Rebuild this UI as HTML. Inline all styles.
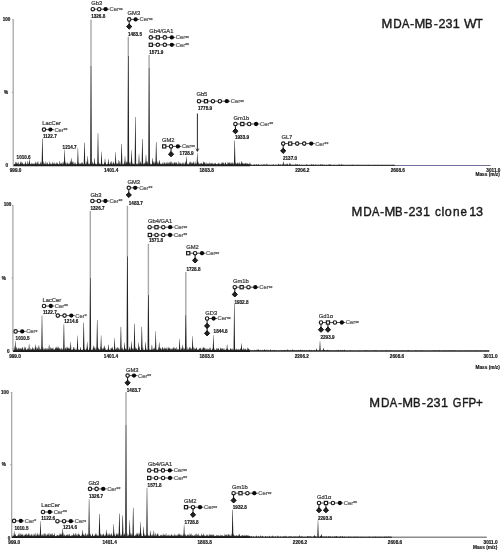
<!DOCTYPE html><html><head><meta charset="utf-8"><style>html,body{margin:0;padding:0;background:#fff;width:501px;height:550px;overflow:hidden}svg{display:block;will-change:transform;filter:blur(0.3px)}text{font-family:"Liberation Sans", sans-serif}</style></head><body>
<svg width="501" height="550" viewBox="0 0 501 550">
<rect width="501" height="550" fill="#fff"/>
<path d="M13.2 165.4H250" stroke="#1a1a1a" stroke-width="1.8" fill="none"/>
<path d="M250 165.4H395" stroke="#3a3a3a" stroke-width="1.3" fill="none"/>
<path d="M395 165.4H490.6" stroke="#70709c" stroke-width="1.05" fill="none"/>
<path d="M13.60 165.4L14.40 163.4L15.20 165.4ZM15.09 165.4L15.89 161.2L16.69 165.4ZM16.17 165.4L16.97 162.2L17.77 165.4ZM17.39 165.4L18.19 161.6L18.99 165.4ZM18.84 165.4L19.64 163.6L20.44 165.4ZM19.76 165.4L20.56 161.0L21.36 165.4ZM20.96 165.4L21.76 161.2L22.56 165.4ZM21.86 165.4L22.66 162.3L23.46 165.4ZM23.27 165.4L24.07 163.1L24.87 165.4ZM24.83 165.4L25.63 160.7L26.43 165.4ZM25.75 165.4L26.55 163.8L27.35 165.4ZM27.03 165.4L27.83 160.6L28.63 165.4ZM28.20 165.4L29.00 163.1L29.80 165.4ZM29.39 165.4L30.19 163.8L30.99 165.4ZM30.45 165.4L31.25 162.4L32.05 165.4ZM31.69 165.4L32.49 163.1L33.29 165.4ZM32.76 165.4L33.56 163.1L34.36 165.4ZM33.98 165.4L34.78 162.9L35.58 165.4ZM34.89 165.4L35.69 161.0L36.49 165.4ZM36.18 165.4L36.98 161.7L37.78 165.4ZM37.21 165.4L38.01 160.4L38.81 165.4ZM38.71 165.4L39.51 163.5L40.31 165.4ZM39.85 165.4L40.65 161.4L41.45 165.4ZM41.25 165.4L42.05 160.6L42.85 165.4ZM42.44 165.4L43.24 161.0L44.04 165.4ZM43.81 165.4L44.61 162.8L45.41 165.4ZM45.12 165.4L45.92 160.8L46.72 165.4ZM46.61 165.4L47.41 162.1L48.21 165.4ZM47.93 165.4L48.73 163.8L49.53 165.4ZM49.00 165.4L49.80 161.1L50.60 165.4ZM50.19 165.4L50.99 163.3L51.79 165.4ZM51.47 165.4L52.27 161.4L53.07 165.4ZM52.84 165.4L53.64 162.6L54.44 165.4ZM54.05 165.4L54.85 162.1L55.65 165.4ZM55.49 165.4L56.29 162.1L57.09 165.4ZM56.67 165.4L57.47 162.2L58.27 165.4ZM57.59 165.4L58.39 163.7L59.19 165.4ZM58.98 165.4L59.78 160.5L60.58 165.4ZM60.30 165.4L61.10 162.5L61.90 165.4ZM61.32 165.4L62.12 162.1L62.92 165.4ZM62.90 165.4L63.70 161.2L64.50 165.4ZM64.18 165.4L64.98 160.9L65.78 165.4ZM65.24 165.4L66.04 162.1L66.84 165.4ZM66.81 165.4L67.61 161.9L68.41 165.4ZM68.03 165.4L68.83 163.0L69.63 165.4ZM69.32 165.4L70.12 160.6L70.92 165.4ZM70.22 165.4L71.02 161.2L71.82 165.4ZM71.69 165.4L72.49 160.8L73.29 165.4ZM73.11 165.4L73.91 161.1L74.71 165.4ZM74.38 165.4L75.18 161.9L75.98 165.4ZM75.57 165.4L76.37 163.7L77.17 165.4ZM77.08 165.4L77.88 161.9L78.68 165.4ZM78.12 165.4L78.92 162.1L79.72 165.4ZM79.36 165.4L80.16 162.7L80.96 165.4ZM80.51 165.4L81.31 162.0L82.11 165.4ZM81.84 165.4L82.64 161.8L83.44 165.4ZM83.06 165.4L83.86 163.8L84.66 165.4ZM84.12 165.4L84.92 163.3L85.72 165.4ZM85.43 165.4L86.23 160.9L87.03 165.4ZM86.89 165.4L87.69 161.1L88.49 165.4ZM88.36 165.4L89.16 163.0L89.96 165.4ZM89.85 165.4L90.65 161.5L91.45 165.4ZM90.81 165.4L91.61 163.8L92.41 165.4ZM91.72 165.4L92.52 161.3L93.32 165.4ZM92.79 165.4L93.59 163.5L94.39 165.4ZM94.13 165.4L94.93 162.7L95.73 165.4ZM95.08 165.4L95.88 163.3L96.68 165.4ZM96.35 165.4L97.15 163.3L97.95 165.4ZM97.44 165.4L98.24 161.4L99.04 165.4ZM98.66 165.4L99.46 162.8L100.26 165.4ZM99.89 165.4L100.69 163.8L101.49 165.4ZM101.06 165.4L101.86 162.4L102.66 165.4ZM102.09 165.4L102.89 163.5L103.69 165.4ZM103.62 165.4L104.42 162.1L105.22 165.4ZM104.67 165.4L105.47 161.8L106.27 165.4ZM106.14 165.4L106.94 163.8L107.74 165.4ZM107.05 165.4L107.85 163.4L108.65 165.4ZM108.46 165.4L109.26 163.3L110.06 165.4ZM109.85 165.4L110.65 161.5L111.45 165.4ZM111.13 165.4L111.93 163.1L112.73 165.4ZM112.71 165.4L113.51 161.1L114.31 165.4ZM113.98 165.4L114.78 163.1L115.58 165.4ZM115.33 165.4L116.13 162.5L116.93 165.4ZM116.63 165.4L117.43 162.8L118.23 165.4ZM117.97 165.4L118.77 163.7L119.57 165.4ZM119.08 165.4L119.88 160.5L120.68 165.4ZM120.60 165.4L121.40 162.8L122.20 165.4ZM122.10 165.4L122.90 162.8L123.70 165.4ZM123.66 165.4L124.46 161.3L125.26 165.4ZM124.85 165.4L125.65 163.0L126.45 165.4ZM125.75 165.4L126.55 160.8L127.35 165.4ZM126.68 165.4L127.48 161.0L128.28 165.4ZM128.25 165.4L129.05 161.9L129.85 165.4ZM129.27 165.4L130.07 160.9L130.87 165.4ZM130.85 165.4L131.65 161.4L132.45 165.4ZM132.11 165.4L132.91 162.6L133.71 165.4ZM133.25 165.4L134.05 163.2L134.85 165.4ZM134.63 165.4L135.43 162.4L136.23 165.4ZM135.66 165.4L136.46 163.5L137.26 165.4ZM137.03 165.4L137.83 162.9L138.63 165.4ZM138.28 165.4L139.08 162.8L139.88 165.4ZM139.79 165.4L140.59 160.8L141.39 165.4ZM140.70 165.4L141.50 163.2L142.30 165.4ZM141.83 165.4L142.63 160.4L143.43 165.4ZM143.28 165.4L144.08 162.7L144.88 165.4ZM144.33 165.4L145.13 161.5L145.93 165.4ZM145.81 165.4L146.61 160.6L147.41 165.4ZM146.95 165.4L147.75 160.8L148.55 165.4ZM148.33 165.4L149.13 162.2L149.93 165.4ZM149.92 165.4L150.72 163.1L151.52 165.4ZM151.33 165.4L152.13 163.6L152.93 165.4ZM152.35 165.4L153.15 160.7L153.95 165.4ZM153.40 165.4L154.20 161.2L155.00 165.4ZM154.72 165.4L155.52 161.0L156.32 165.4ZM155.88 165.4L156.68 162.7L157.48 165.4ZM156.98 165.4L157.78 160.9L158.58 165.4ZM158.30 165.4L159.10 160.6L159.90 165.4ZM159.83 165.4L160.63 163.0L161.43 165.4ZM161.11 165.4L161.91 163.1L162.71 165.4ZM162.04 165.4L162.84 163.2L163.64 165.4ZM163.55 165.4L164.35 161.4L165.15 165.4ZM165.03 165.4L165.83 162.5L166.63 165.4ZM166.36 165.4L167.16 161.4L167.96 165.4ZM167.52 165.4L168.32 161.9L169.12 165.4ZM168.58 165.4L169.38 163.2L170.18 165.4ZM169.66 165.4L170.46 161.1L171.26 165.4ZM170.96 165.4L171.76 161.0L172.56 165.4ZM172.18 165.4L172.98 162.7L173.78 165.4ZM173.63 165.4L174.43 161.2L175.23 165.4ZM174.54 165.4L175.34 161.7L176.14 165.4ZM175.50 165.4L176.30 163.1L177.10 165.4ZM177.02 165.4L177.82 163.3L178.62 165.4ZM178.09 165.4L178.89 160.8L179.69 165.4ZM179.28 165.4L180.08 163.1L180.88 165.4ZM180.30 165.4L181.10 162.8L181.90 165.4ZM181.72 165.4L182.52 163.1L183.32 165.4ZM183.26 165.4L184.06 162.4L184.86 165.4ZM184.84 165.4L185.64 161.0L186.44 165.4ZM185.95 165.4L186.75 162.7L187.55 165.4ZM187.18 165.4L187.98 163.1L188.78 165.4ZM188.54 165.4L189.34 163.3L190.14 165.4ZM189.44 165.4L190.24 160.8L191.04 165.4ZM190.55 165.4L191.35 161.8L192.15 165.4ZM191.76 165.4L192.56 162.6L193.36 165.4ZM192.71 165.4L193.51 161.0L194.31 165.4ZM194.29 165.4L195.09 160.9L195.89 165.4ZM195.27 165.4L196.07 162.8L196.87 165.4ZM196.60 165.4L197.40 160.9L198.20 165.4ZM197.88 165.4L198.68 161.6L199.48 165.4ZM199.24 165.4L200.04 162.7L200.84 165.4ZM200.52 165.4L201.32 162.6L202.12 165.4ZM201.59 165.4L202.39 163.2L203.19 165.4ZM202.69 165.4L203.49 160.8L204.29 165.4ZM203.90 165.4L204.70 161.7L205.50 165.4ZM205.25 165.4L206.05 161.7L206.85 165.4ZM206.43 165.4L207.23 163.2L208.03 165.4ZM207.56 165.4L208.36 163.2L209.16 165.4ZM209.05 165.4L209.85 161.8L210.65 165.4ZM210.16 165.4L210.96 163.1L211.76 165.4ZM211.44 165.4L212.24 162.6L213.04 165.4ZM212.76 165.4L213.56 163.3L214.36 165.4ZM213.67 165.4L214.47 163.3L215.27 165.4ZM214.62 165.4L215.42 162.6L216.22 165.4ZM215.57 165.4L216.37 163.7L217.17 165.4ZM216.92 165.4L217.72 163.2L218.52 165.4ZM218.37 165.4L219.17 162.8L219.97 165.4ZM219.88 165.4L220.68 163.5L221.48 165.4ZM221.13 165.4L221.93 162.1L222.73 165.4ZM222.08 165.4L222.88 161.7L223.68 165.4ZM223.10 165.4L223.90 162.1L224.70 165.4ZM224.69 165.4L225.49 162.0L226.29 165.4ZM225.82 165.4L226.62 163.7L227.42 165.4ZM227.08 165.4L227.88 161.8L228.68 165.4ZM228.18 165.4L228.98 161.8L229.78 165.4ZM229.18 165.4L229.98 161.8L230.78 165.4ZM230.10 165.4L230.90 163.2L231.70 165.4ZM231.64 165.4L232.44 162.1L233.24 165.4ZM233.17 165.4L233.97 162.0L234.77 165.4ZM234.59 165.4L235.39 162.3L236.19 165.4ZM235.62 165.4L236.42 162.9L237.22 165.4ZM236.63 165.4L237.43 162.3L238.23 165.4ZM238.00 165.4L238.80 163.3L239.60 165.4ZM238.94 165.4L239.74 161.7L240.54 165.4ZM240.41 165.4L241.21 162.6L242.01 165.4ZM241.69 165.4L242.49 161.9L243.29 165.4ZM242.90 165.4L243.70 163.0L244.50 165.4ZM244.04 165.4L244.84 163.3L245.64 165.4ZM244.96 165.4L245.76 162.4L246.56 165.4ZM246.15 165.4L246.95 162.6L247.75 165.4ZM247.09 165.4L247.89 163.1L248.69 165.4ZM248.09 165.4L248.89 163.6L249.69 165.4ZM249.17 165.4L249.97 162.0L250.77 165.4ZM250.35 165.4L251.15 164.2L251.95 165.4ZM252.57 165.4L253.37 164.4L254.17 165.4ZM253.88 165.4L254.68 164.0L255.48 165.4ZM255.93 165.4L256.73 163.8L257.53 165.4ZM257.89 165.4L258.69 163.7L259.49 165.4ZM260.28 165.4L261.08 164.4L261.88 165.4ZM262.33 165.4L263.13 164.0L263.93 165.4ZM263.96 165.4L264.76 164.1L265.56 165.4ZM266.11 165.4L266.91 163.3L267.71 165.4ZM268.78 165.4L269.58 164.4L270.38 165.4ZM271.05 165.4L271.85 164.7L272.65 165.4ZM272.46 165.4L273.26 164.0L274.06 165.4ZM275.08 165.4L275.88 164.5L276.68 165.4ZM277.52 165.4L278.32 163.4L279.12 165.4ZM279.29 165.4L280.09 163.7L280.89 165.4ZM281.87 165.4L282.67 164.2L283.47 165.4ZM284.22 165.4L285.02 163.6L285.82 165.4ZM286.41 165.4L287.21 163.4L288.01 165.4ZM289.05 165.4L289.85 163.3L290.65 165.4ZM291.21 165.4L292.01 164.5L292.81 165.4ZM292.89 165.4L293.69 164.5L294.49 165.4ZM295.04 165.4L295.84 163.6L296.64 165.4ZM296.42 165.4L297.22 163.7L298.02 165.4ZM298.79 165.4L299.59 164.2L300.39 165.4ZM300.87 165.4L301.67 164.8L302.47 165.4ZM303.26 165.4L304.06 165.0L304.86 165.4ZM306.03 165.4L306.83 164.0L307.63 165.4ZM308.28 165.4L309.08 164.7L309.88 165.4ZM310.95 165.4L311.75 163.8L312.55 165.4ZM312.45 165.4L313.25 164.1L314.05 165.4ZM315.02 165.4L315.82 164.2L316.62 165.4ZM317.37 165.4L318.17 164.5L318.97 165.4ZM320.05 165.4L320.85 163.8L321.65 165.4ZM321.93 165.4L322.73 164.0L323.53 165.4ZM323.88 165.4L324.68 164.8L325.48 165.4ZM325.67 165.4L326.47 164.8L327.27 165.4ZM328.33 165.4L329.13 163.8L329.93 165.4ZM329.81 165.4L330.61 164.3L331.41 165.4ZM331.72 165.4L332.52 164.9L333.32 165.4ZM333.46 165.4L334.26 164.7L335.06 165.4ZM335.89 165.4L336.69 165.0L337.49 165.4ZM337.47 165.4L338.27 164.5L339.07 165.4ZM338.80 165.4L339.60 164.2L340.40 165.4ZM341.01 165.4L341.81 164.0L342.61 165.4ZM342.62 165.4L343.42 164.7L344.22 165.4ZM349.24 165.4L350.04 164.7L350.84 165.4ZM351.75 165.4L352.55 164.5L353.35 165.4ZM353.87 165.4L354.67 165.0L355.47 165.4ZM356.45 165.4L357.25 164.7L358.05 165.4ZM358.61 165.4L359.41 165.1L360.21 165.4ZM365.27 165.4L366.07 164.9L366.87 165.4ZM368.02 165.4L368.82 164.7L369.62 165.4ZM372.83 165.4L373.63 164.9L374.43 165.4ZM374.59 165.4L375.39 164.9L376.19 165.4ZM376.43 165.4L377.23 164.9L378.03 165.4ZM377.73 165.4L378.53 165.0L379.33 165.4ZM381.60 165.4L382.40 164.7L383.20 165.4ZM383.93 165.4L384.73 165.0L385.53 165.4ZM386.20 165.4L387.00 165.1L387.80 165.4ZM389.52 165.4L390.32 164.9L391.12 165.4ZM392.15 165.4L392.95 164.7L393.75 165.4Z" fill="#222"/>
<path d="M90.30 19.8H91.70V66.9H90.30ZM127.60 36.7H129.00V56.5H127.60ZM148.40 55.0H149.80V68.7H148.40Z" fill="#a8a8a8"/>
<path d="M15.28 165.4L15.88 162.0H16.12L16.73 165.4ZM28.77 165.4L29.38 159.3H29.62L30.23 165.4ZM41.62 165.4L42.20 138.6H42.60L43.17 165.4ZM63.87 165.4L64.47 149.6H64.72L65.32 165.4ZM70.58 165.4L71.17 157.9H71.42L72.02 165.4ZM77.18 165.4L77.78 147.7H78.03L78.62 165.4ZM83.72 165.4L84.30 142.6H84.70L85.28 165.4ZM86.98 165.4L87.58 156.0H87.83L88.42 165.4ZM90.15 165.4L90.58 66.4H91.42L91.85 165.4ZM93.68 165.4L94.28 157.9H94.53L95.12 165.4ZM97.22 165.4L97.80 133.3H98.20L98.78 165.4ZM100.78 165.4L101.38 151.5H101.62L102.22 165.4ZM104.28 165.4L104.88 158.5H105.12L105.72 165.4ZM107.68 165.4L108.28 159.0H108.53L109.12 165.4ZM111.08 165.4L111.67 161.0H111.92L112.52 165.4ZM114.88 165.4L115.47 152.0H115.72L116.32 165.4ZM118.08 165.4L118.67 160.0H118.92L119.52 165.4ZM120.82 165.4L121.40 144.0H121.80L122.38 165.4ZM124.28 165.4L124.88 156.0H125.12L125.72 165.4ZM127.45 165.4L127.88 56.0H128.73L129.15 165.4ZM130.88 165.4L131.47 150.0H131.72L132.32 165.4ZM134.62 165.4L135.20 117.0H135.60L136.18 165.4ZM138.28 165.4L138.88 154.0H139.12L139.72 165.4ZM141.62 165.4L142.20 139.0H142.60L143.18 165.4ZM145.28 165.4L145.88 154.5H146.12L146.72 165.4ZM148.25 165.4L148.67 68.2H149.53L149.95 165.4ZM151.88 165.4L152.47 157.9H152.72L153.32 165.4ZM155.42 165.4L156.00 142.0H156.40L156.97 165.4ZM158.78 165.4L159.38 160.0H159.62L160.22 165.4ZM162.28 165.4L162.88 162.0H163.12L163.72 165.4ZM165.78 165.4L166.38 162.5H166.62L167.22 165.4ZM169.08 165.4L169.68 162.0H169.93L170.53 165.4ZM172.28 165.4L172.88 162.5H173.12L173.72 165.4ZM175.78 165.4L176.38 162.0H176.62L177.22 165.4ZM179.28 165.4L179.88 162.5H180.12L180.72 165.4ZM182.28 165.4L182.88 162.0H183.12L183.72 165.4ZM185.68 165.4L186.28 156.5H186.53L187.12 165.4ZM189.08 165.4L189.68 162.0H189.93L190.53 165.4ZM192.28 165.4L192.88 162.5H193.12L193.72 165.4ZM196.58 165.4L197.18 152.8H197.43L198.03 165.4ZM200.28 165.4L200.88 163.0H201.12L201.72 165.4ZM203.78 165.4L204.38 162.5H204.62L205.22 165.4ZM207.28 165.4L207.88 163.0H208.12L208.72 165.4ZM210.78 165.4L211.38 162.8H211.62L212.22 165.4ZM214.28 165.4L214.88 163.0H215.12L215.72 165.4ZM217.78 165.4L218.38 162.8H218.62L219.22 165.4ZM221.28 165.4L221.88 163.0H222.12L222.72 165.4ZM224.78 165.4L225.38 162.5H225.62L226.22 165.4ZM228.28 165.4L228.88 162.8H229.12L229.72 165.4ZM230.78 165.4L231.38 162.5H231.62L232.22 165.4ZM233.92 165.4L234.50 140.4H234.90L235.47 165.4ZM237.28 165.4L237.88 162.5H238.12L238.72 165.4ZM240.78 165.4L241.38 161.0H241.62L242.22 165.4ZM244.28 165.4L244.88 163.0H245.12L245.72 165.4ZM282.57 165.4L283.18 161.5H283.43L284.03 165.4ZM286.27 165.4L286.88 163.5H287.12L287.73 165.4ZM289.27 165.4L289.88 163.0H290.12L290.73 165.4Z" fill="#222"/>
<path d="M13.2 19.2V165.4M11.9 92.3H13.2M12.2 19.7H13.2" stroke="#a0a0a0" stroke-width="1.2" fill="none"/>
<text x="10.4" y="20.5" font-size="4.6" font-weight="bold" text-anchor="end" fill="#222" stroke="#222" stroke-width="0.2">100</text>
<text x="6.0" y="93.9" font-size="4.6" font-weight="bold" text-anchor="middle" fill="#222" stroke="#222" stroke-width="0.2">%</text>
<text x="6.9" y="166.8" font-size="4.6" font-weight="bold" text-anchor="middle" fill="#222" stroke="#222" stroke-width="0.2">0</text>
<text x="15.6" y="171.5" font-size="4.7" font-weight="bold" text-anchor="middle" fill="#111" stroke="#111" stroke-width="0.15">999.0</text>
<text x="111.2" y="171.5" font-size="4.7" font-weight="bold" text-anchor="middle" fill="#111" stroke="#111" stroke-width="0.15">1401.4</text>
<text x="206.7" y="171.5" font-size="4.7" font-weight="bold" text-anchor="middle" fill="#111" stroke="#111" stroke-width="0.15">1803.8</text>
<text x="302.3" y="171.5" font-size="4.7" font-weight="bold" text-anchor="middle" fill="#111" stroke="#111" stroke-width="0.15">2206.2</text>
<text x="397.8" y="171.5" font-size="4.7" font-weight="bold" text-anchor="middle" fill="#111" stroke="#111" stroke-width="0.15">2608.6</text>
<text x="493.4" y="171.5" font-size="4.7" font-weight="bold" text-anchor="middle" fill="#111" stroke="#111" stroke-width="0.15">3011.0</text>
<text x="499.8" y="175.6" font-size="4.75" font-weight="bold" text-anchor="end" fill="#111" stroke="#111" stroke-width="0.15">Mass (m/z)</text>
<g font-size="12.6" fill="#1a1a1a" stroke="#1a1a1a" stroke-width="0.4"><text transform="translate(386.9 28.4) scale(1.03 1)" text-anchor="middle">M</text><text transform="translate(397.4 28.4) scale(0.93 1)" text-anchor="middle">D</text><text transform="translate(405.6 28.4) scale(0.88 1)" text-anchor="middle">A</text><text transform="translate(412.2 28.4) scale(1.0 1)" text-anchor="middle">-</text><text transform="translate(419.8 28.4) scale(1.03 1)" text-anchor="middle">M</text><text transform="translate(428.8 28.4) scale(0.9 1)" text-anchor="middle">B</text><text transform="translate(435.8 28.4) scale(1.0 1)" text-anchor="middle">-</text><text transform="translate(442.0 28.4) scale(1.0 1)" text-anchor="middle">2</text><text transform="translate(449.0 28.4) scale(1.0 1)" text-anchor="middle">3</text><text transform="translate(456.2 28.4) scale(1.0 1)" text-anchor="middle">1</text><text transform="translate(470.2 28.4) scale(1.05 1)" text-anchor="middle">W</text><text transform="translate(479.2 28.4) scale(0.9 1)" text-anchor="middle">T</text></g>
<path d="M12.9 351.0H250" stroke="#1a1a1a" stroke-width="1.8" fill="none"/>
<path d="M250 351.0H489.3" stroke="#2a2a2a" stroke-width="1.4" fill="none"/>
<path d="M13.30 351.0L14.10 346.2L14.90 351.0ZM14.86 351.0L15.66 349.3L16.46 351.0ZM15.82 351.0L16.62 346.6L17.42 351.0ZM17.24 351.0L18.04 347.2L18.84 351.0ZM18.35 351.0L19.15 347.4L19.95 351.0ZM19.68 351.0L20.48 347.5L21.28 351.0ZM20.69 351.0L21.49 348.0L22.29 351.0ZM21.86 351.0L22.66 347.0L23.46 351.0ZM23.46 351.0L24.26 346.2L25.06 351.0ZM24.74 351.0L25.54 347.9L26.34 351.0ZM25.83 351.0L26.63 349.4L27.43 351.0ZM26.75 351.0L27.55 347.9L28.35 351.0ZM27.87 351.0L28.67 348.2L29.47 351.0ZM29.40 351.0L30.20 347.7L31.00 351.0ZM30.69 351.0L31.49 348.7L32.29 351.0ZM31.61 351.0L32.41 348.4L33.21 351.0ZM32.60 351.0L33.40 347.7L34.20 351.0ZM34.20 351.0L35.00 347.1L35.80 351.0ZM35.23 351.0L36.03 346.4L36.83 351.0ZM36.69 351.0L37.49 346.9L38.29 351.0ZM38.22 351.0L39.02 346.8L39.82 351.0ZM39.67 351.0L40.47 348.3L41.27 351.0ZM41.26 351.0L42.06 346.1L42.86 351.0ZM42.27 351.0L43.07 346.9L43.87 351.0ZM43.67 351.0L44.47 347.9L45.27 351.0ZM44.94 351.0L45.74 347.8L46.54 351.0ZM46.49 351.0L47.29 347.7L48.09 351.0ZM47.97 351.0L48.77 348.3L49.57 351.0ZM49.49 351.0L50.29 346.4L51.09 351.0ZM50.71 351.0L51.51 347.5L52.31 351.0ZM52.26 351.0L53.06 347.0L53.86 351.0ZM53.50 351.0L54.30 348.7L55.10 351.0ZM54.63 351.0L55.43 347.1L56.23 351.0ZM55.64 351.0L56.44 346.3L57.24 351.0ZM56.73 351.0L57.53 346.3L58.33 351.0ZM57.85 351.0L58.65 346.1L59.45 351.0ZM59.24 351.0L60.04 347.7L60.84 351.0ZM60.50 351.0L61.30 347.2L62.10 351.0ZM61.82 351.0L62.62 348.4L63.42 351.0ZM62.86 351.0L63.66 347.7L64.46 351.0ZM64.41 351.0L65.21 347.3L66.01 351.0ZM65.37 351.0L66.17 346.6L66.97 351.0ZM66.78 351.0L67.58 346.3L68.38 351.0ZM67.81 351.0L68.61 346.9L69.41 351.0ZM68.75 351.0L69.55 347.2L70.35 351.0ZM69.84 351.0L70.64 348.7L71.44 351.0ZM71.35 351.0L72.15 349.1L72.95 351.0ZM72.62 351.0L73.42 346.5L74.22 351.0ZM73.69 351.0L74.49 348.8L75.29 351.0ZM75.21 351.0L76.01 348.0L76.81 351.0ZM76.61 351.0L77.41 349.4L78.21 351.0ZM77.76 351.0L78.56 348.9L79.36 351.0ZM79.13 351.0L79.93 349.2L80.73 351.0ZM80.70 351.0L81.50 349.4L82.30 351.0ZM82.11 351.0L82.91 349.4L83.71 351.0ZM83.19 351.0L83.99 346.7L84.79 351.0ZM84.20 351.0L85.00 348.9L85.80 351.0ZM85.59 351.0L86.39 348.2L87.19 351.0ZM86.52 351.0L87.32 346.0L88.12 351.0ZM87.52 351.0L88.32 349.4L89.12 351.0ZM88.66 351.0L89.46 347.3L90.26 351.0ZM90.08 351.0L90.88 349.1L91.68 351.0ZM91.22 351.0L92.02 349.4L92.82 351.0ZM92.43 351.0L93.23 346.8L94.03 351.0ZM93.85 351.0L94.65 346.3L95.45 351.0ZM95.28 351.0L96.08 346.5L96.88 351.0ZM96.67 351.0L97.47 347.8L98.27 351.0ZM97.73 351.0L98.53 347.2L99.33 351.0ZM98.85 351.0L99.65 349.1L100.45 351.0ZM100.07 351.0L100.87 346.4L101.67 351.0ZM101.06 351.0L101.86 347.5L102.66 351.0ZM102.23 351.0L103.03 347.7L103.83 351.0ZM103.23 351.0L104.03 346.1L104.83 351.0ZM104.31 351.0L105.11 347.4L105.91 351.0ZM105.51 351.0L106.31 349.4L107.11 351.0ZM106.80 351.0L107.60 349.0L108.40 351.0ZM107.74 351.0L108.54 349.4L109.34 351.0ZM108.75 351.0L109.55 349.2L110.35 351.0ZM110.09 351.0L110.89 347.7L111.69 351.0ZM111.68 351.0L112.48 346.2L113.28 351.0ZM113.28 351.0L114.08 348.7L114.88 351.0ZM114.49 351.0L115.29 348.6L116.09 351.0ZM115.80 351.0L116.60 347.3L117.40 351.0ZM117.26 351.0L118.06 347.0L118.86 351.0ZM118.34 351.0L119.14 348.0L119.94 351.0ZM119.61 351.0L120.41 349.5L121.21 351.0ZM120.54 351.0L121.34 348.1L122.14 351.0ZM121.52 351.0L122.32 347.0L123.12 351.0ZM122.58 351.0L123.38 349.2L124.18 351.0ZM123.61 351.0L124.41 348.7L125.21 351.0ZM124.66 351.0L125.46 347.7L126.26 351.0ZM125.89 351.0L126.69 348.4L127.49 351.0ZM127.24 351.0L128.04 348.8L128.84 351.0ZM128.77 351.0L129.57 346.1L130.37 351.0ZM130.18 351.0L130.98 348.0L131.78 351.0ZM131.44 351.0L132.24 347.5L133.04 351.0ZM132.38 351.0L133.18 348.0L133.98 351.0ZM133.64 351.0L134.44 348.9L135.24 351.0ZM134.61 351.0L135.41 346.7L136.21 351.0ZM135.77 351.0L136.57 347.7L137.37 351.0ZM137.31 351.0L138.11 347.4L138.91 351.0ZM138.41 351.0L139.21 346.1L140.01 351.0ZM139.57 351.0L140.37 349.4L141.17 351.0ZM140.95 351.0L141.75 349.1L142.55 351.0ZM142.07 351.0L142.87 346.6L143.67 351.0ZM143.44 351.0L144.24 349.4L145.04 351.0ZM144.65 351.0L145.45 348.1L146.25 351.0ZM145.89 351.0L146.69 348.8L147.49 351.0ZM147.21 351.0L148.01 349.2L148.81 351.0ZM148.31 351.0L149.11 348.2L149.91 351.0ZM149.86 351.0L150.66 349.2L151.46 351.0ZM151.29 351.0L152.09 348.8L152.89 351.0ZM152.59 351.0L153.39 348.1L154.19 351.0ZM153.81 351.0L154.61 346.9L155.41 351.0ZM154.99 351.0L155.79 349.1L156.59 351.0ZM155.98 351.0L156.78 349.2L157.58 351.0ZM157.47 351.0L158.27 347.3L159.07 351.0ZM159.04 351.0L159.84 347.1L160.64 351.0ZM159.96 351.0L160.76 347.3L161.56 351.0ZM161.40 351.0L162.20 347.1L163.00 351.0ZM162.65 351.0L163.45 348.1L164.25 351.0ZM163.87 351.0L164.67 346.9L165.47 351.0ZM164.96 351.0L165.76 347.6L166.56 351.0ZM166.19 351.0L166.99 346.5L167.79 351.0ZM167.66 351.0L168.46 346.6L169.26 351.0ZM169.14 351.0L169.94 348.2L170.74 351.0ZM170.20 351.0L171.00 347.7L171.80 351.0ZM171.29 351.0L172.09 347.9L172.89 351.0ZM172.66 351.0L173.46 346.6L174.26 351.0ZM173.97 351.0L174.77 346.9L175.57 351.0ZM174.94 351.0L175.74 348.1L176.54 351.0ZM176.54 351.0L177.34 348.6L178.14 351.0ZM177.73 351.0L178.53 348.8L179.33 351.0ZM178.69 351.0L179.49 346.7L180.29 351.0ZM180.28 351.0L181.08 347.3L181.88 351.0ZM181.27 351.0L182.07 348.2L182.87 351.0ZM182.33 351.0L183.13 347.3L183.93 351.0ZM183.71 351.0L184.51 347.9L185.31 351.0ZM184.98 351.0L185.78 348.7L186.58 351.0ZM186.26 351.0L187.06 346.5L187.86 351.0ZM187.69 351.0L188.49 348.7L189.29 351.0ZM188.95 351.0L189.75 347.1L190.55 351.0ZM190.03 351.0L190.83 346.7L191.63 351.0ZM191.25 351.0L192.05 347.2L192.85 351.0ZM192.43 351.0L193.23 346.4L194.03 351.0ZM193.88 351.0L194.68 347.5L195.48 351.0ZM194.88 351.0L195.68 347.9L196.48 351.0ZM195.80 351.0L196.60 347.5L197.40 351.0ZM197.32 351.0L198.12 348.5L198.92 351.0ZM198.58 351.0L199.38 347.7L200.18 351.0ZM199.76 351.0L200.56 347.2L201.36 351.0ZM201.32 351.0L202.12 347.2L202.92 351.0ZM202.55 351.0L203.35 346.5L204.15 351.0ZM203.68 351.0L204.48 347.1L205.28 351.0ZM205.04 351.0L205.84 347.7L206.64 351.0ZM206.54 351.0L207.34 349.0L208.14 351.0ZM207.87 351.0L208.67 348.6L209.47 351.0ZM209.24 351.0L210.04 347.3L210.84 351.0ZM210.58 351.0L211.38 349.5L212.18 351.0ZM211.81 351.0L212.61 347.9L213.41 351.0ZM213.32 351.0L214.12 348.0L214.92 351.0ZM214.80 351.0L215.60 349.5L216.40 351.0ZM216.36 351.0L217.16 347.8L217.96 351.0ZM217.68 351.0L218.48 347.4L219.28 351.0ZM219.20 351.0L220.00 349.3L220.80 351.0ZM220.67 351.0L221.47 347.7L222.27 351.0ZM221.71 351.0L222.51 347.8L223.31 351.0ZM223.02 351.0L223.82 349.1L224.62 351.0ZM224.48 351.0L225.28 349.2L226.08 351.0ZM225.81 351.0L226.61 348.5L227.41 351.0ZM226.89 351.0L227.69 348.2L228.49 351.0ZM228.12 351.0L228.92 349.0L229.72 351.0ZM229.69 351.0L230.49 349.3L231.29 351.0ZM230.60 351.0L231.40 348.4L232.20 351.0ZM232.08 351.0L232.88 348.0L233.68 351.0ZM233.51 351.0L234.31 348.4L235.11 351.0ZM234.88 351.0L235.68 348.7L236.48 351.0ZM235.97 351.0L236.77 348.3L237.57 351.0ZM236.89 351.0L237.69 349.3L238.49 351.0ZM238.32 351.0L239.12 349.1L239.92 351.0ZM239.74 351.0L240.54 347.7L241.34 351.0ZM240.92 351.0L241.72 347.9L242.52 351.0ZM242.38 351.0L243.18 347.5L243.98 351.0ZM243.37 351.0L244.17 349.1L244.97 351.0ZM244.54 351.0L245.34 348.4L246.14 351.0ZM245.64 351.0L246.44 349.5L247.24 351.0ZM246.93 351.0L247.73 347.3L248.53 351.0ZM248.09 351.0L248.89 348.3L249.69 351.0ZM249.26 351.0L250.06 349.7L250.86 351.0ZM251.86 351.0L252.66 349.9L253.46 351.0ZM254.14 351.0L254.94 349.6L255.74 351.0ZM256.25 351.0L257.05 348.9L257.85 351.0ZM257.66 351.0L258.46 349.1L259.26 351.0ZM259.42 351.0L260.22 349.4L261.02 351.0ZM261.91 351.0L262.71 349.4L263.51 351.0ZM263.80 351.0L264.60 349.1L265.40 351.0ZM265.24 351.0L266.04 349.4L266.84 351.0ZM267.13 351.0L267.93 349.6L268.73 351.0ZM269.70 351.0L270.50 349.1L271.30 351.0ZM271.95 351.0L272.75 349.9L273.55 351.0ZM273.60 351.0L274.40 349.7L275.20 351.0ZM275.24 351.0L276.04 350.0L276.84 351.0ZM277.98 351.0L278.78 350.2L279.58 351.0ZM280.51 351.0L281.31 349.8L282.11 351.0ZM282.35 351.0L283.15 349.9L283.95 351.0ZM283.77 351.0L284.57 349.7L285.37 351.0ZM285.32 351.0L286.12 349.7L286.92 351.0ZM287.06 351.0L287.86 349.0L288.66 351.0ZM289.74 351.0L290.54 349.7L291.34 351.0ZM292.00 351.0L292.80 348.9L293.60 351.0ZM293.79 351.0L294.59 350.2L295.39 351.0ZM295.45 351.0L296.25 350.1L297.05 351.0ZM297.76 351.0L298.56 349.8L299.36 351.0ZM299.60 351.0L300.40 349.6L301.20 351.0ZM301.25 351.0L302.05 349.6L302.85 351.0ZM303.50 351.0L304.30 350.1L305.10 351.0ZM306.03 351.0L306.83 350.2L307.63 351.0ZM308.65 351.0L309.45 349.5L310.25 351.0ZM310.70 351.0L311.50 349.8L312.30 351.0ZM313.43 351.0L314.23 349.7L315.03 351.0ZM315.85 351.0L316.65 349.6L317.45 351.0ZM318.56 351.0L319.36 349.7L320.16 351.0ZM321.33 351.0L322.13 350.3L322.93 351.0ZM323.56 351.0L324.36 349.8L325.16 351.0ZM325.41 351.0L326.21 350.1L327.01 351.0ZM326.97 351.0L327.77 349.5L328.57 351.0ZM328.80 351.0L329.60 350.0L330.40 351.0ZM331.44 351.0L332.24 350.4L333.04 351.0ZM334.19 351.0L334.99 350.4L335.79 351.0ZM335.53 351.0L336.33 350.2L337.13 351.0ZM337.37 351.0L338.17 349.5L338.97 351.0ZM339.99 351.0L340.79 349.7L341.59 351.0ZM341.95 351.0L342.75 349.9L343.55 351.0ZM343.60 351.0L344.40 349.6L345.20 351.0ZM349.52 351.0L350.32 350.2L351.12 351.0ZM357.97 351.0L358.77 350.5L359.57 351.0ZM359.78 351.0L360.58 350.7L361.38 351.0ZM363.74 351.0L364.54 350.2L365.34 351.0ZM365.69 351.0L366.49 350.3L367.29 351.0ZM367.19 351.0L367.99 350.5L368.79 351.0ZM369.76 351.0L370.56 350.7L371.36 351.0ZM372.21 351.0L373.01 350.5L373.81 351.0ZM374.10 351.0L374.90 350.1L375.70 351.0ZM375.99 351.0L376.79 350.6L377.59 351.0ZM380.77 351.0L381.57 350.5L382.37 351.0ZM382.96 351.0L383.76 350.5L384.56 351.0ZM385.73 351.0L386.53 350.1L387.33 351.0ZM388.29 351.0L389.09 350.6L389.89 351.0ZM390.21 351.0L391.01 350.5L391.81 351.0ZM397.08 351.0L397.88 350.4L398.68 351.0ZM401.51 351.0L402.31 350.3L403.11 351.0ZM406.17 351.0L406.97 350.4L407.77 351.0ZM407.61 351.0L408.41 350.1L409.21 351.0ZM414.55 351.0L415.35 350.5L416.15 351.0ZM416.06 351.0L416.86 350.5L417.66 351.0ZM420.13 351.0L420.93 350.3L421.73 351.0ZM422.21 351.0L423.01 350.4L423.81 351.0ZM431.58 351.0L432.38 350.7L433.18 351.0ZM433.81 351.0L434.61 350.2L435.41 351.0ZM436.47 351.0L437.27 350.4L438.07 351.0ZM438.53 351.0L439.33 350.2L440.13 351.0ZM442.60 351.0L443.40 350.4L444.20 351.0ZM444.22 351.0L445.02 350.7L445.82 351.0ZM445.96 351.0L446.76 350.6L447.56 351.0ZM447.91 351.0L448.71 350.6L449.51 351.0ZM450.40 351.0L451.20 350.3L452.00 351.0ZM452.55 351.0L453.35 350.6L454.15 351.0ZM454.27 351.0L455.07 350.3L455.87 351.0ZM459.41 351.0L460.21 350.4L461.01 351.0ZM465.41 351.0L466.21 350.5L467.01 351.0ZM467.68 351.0L468.48 350.4L469.28 351.0ZM470.10 351.0L470.90 350.4L471.70 351.0ZM474.57 351.0L475.37 350.3L476.17 351.0ZM477.12 351.0L477.92 350.5L478.72 351.0ZM479.94 351.0L480.74 350.4L481.54 351.0ZM484.79 351.0L485.59 350.1L486.39 351.0ZM487.44 351.0L488.24 350.6L489.04 351.0Z" fill="#222"/>
<path d="M89.60 211.0H91.00V278.7H89.60ZM126.70 205.7H128.10V257.1H126.70ZM147.70 243.8H149.10V295.7H147.70ZM185.10 272.0H186.50V315.9H185.10Z" fill="#a8a8a8"/>
<path d="M14.58 351.0L15.18 341.0H15.43L16.03 351.0ZM18.07 351.0L18.68 348.0H18.93L19.53 351.0ZM21.47 351.0L22.07 347.0H22.32L22.93 351.0ZM24.97 351.0L25.57 347.0H25.82L26.43 351.0ZM28.38 351.0L28.98 344.0H29.23L29.83 351.0ZM31.57 351.0L32.17 347.0H32.42L33.02 351.0ZM34.98 351.0L35.58 344.5H35.83L36.43 351.0ZM38.17 351.0L38.77 345.0H39.02L39.62 351.0ZM41.23 351.0L41.80 315.5H42.20L42.77 351.0ZM45.38 351.0L45.98 348.0H46.23L46.83 351.0ZM48.38 351.0L48.98 344.5H49.23L49.83 351.0ZM51.77 351.0L52.38 348.0H52.62L53.23 351.0ZM55.27 351.0L55.88 347.5H56.12L56.73 351.0ZM58.77 351.0L59.38 348.0H59.62L60.23 351.0ZM63.12 351.0L63.70 324.3H64.10L64.67 351.0ZM66.48 351.0L67.08 348.0H67.33L67.92 351.0ZM69.98 351.0L70.58 342.0H70.83L71.42 351.0ZM73.28 351.0L73.88 347.0H74.12L74.72 351.0ZM76.78 351.0L77.38 335.5H77.62L78.22 351.0ZM79.78 351.0L80.38 347.0H80.62L81.22 351.0ZM82.92 351.0L83.50 322.5H83.90L84.48 351.0ZM86.48 351.0L87.08 342.0H87.33L87.92 351.0ZM89.45 351.0L89.88 278.2H90.72L91.15 351.0ZM92.68 351.0L93.28 345.5H93.53L94.12 351.0ZM96.42 351.0L97.00 320.1H97.40L97.98 351.0ZM100.38 351.0L100.97 335.3H101.22L101.82 351.0ZM103.88 351.0L104.47 345.6H104.72L105.32 351.0ZM107.68 351.0L108.28 344.6H108.53L109.12 351.0ZM110.78 351.0L111.38 347.5H111.62L112.22 351.0ZM113.88 351.0L114.47 337.9H114.72L115.32 351.0ZM117.08 351.0L117.67 347.0H117.92L118.52 351.0ZM120.12 351.0L120.70 326.8H121.10L121.68 351.0ZM123.78 351.0L124.38 342.5H124.62L125.22 351.0ZM126.55 351.0L126.98 256.6H127.83L128.25 351.0ZM130.68 351.0L131.28 341.5H131.53L132.12 351.0ZM133.72 351.0L134.30 323.7H134.70L135.28 351.0ZM137.97 351.0L138.57 342.5H138.82L139.42 351.0ZM141.03 351.0L141.60 326.8H142.00L142.58 351.0ZM144.88 351.0L145.47 342.0H145.72L146.32 351.0ZM147.55 351.0L147.97 295.2H148.83L149.25 351.0ZM151.18 351.0L151.78 344.8H152.03L152.62 351.0ZM154.97 351.0L155.57 331.0H155.82L156.42 351.0ZM158.47 351.0L159.07 342.2H159.32L159.92 351.0ZM161.78 351.0L162.38 347.0H162.62L163.22 351.0ZM165.28 351.0L165.88 348.0H166.12L166.72 351.0ZM168.78 351.0L169.38 347.5H169.62L170.22 351.0ZM172.28 351.0L172.88 348.0H173.12L173.72 351.0ZM175.47 351.0L176.07 347.0H176.32L176.92 351.0ZM178.88 351.0L179.47 338.7H179.72L180.32 351.0ZM181.97 351.0L182.57 344.8H182.82L183.42 351.0ZM184.95 351.0L185.38 315.4H186.23L186.65 351.0ZM188.47 351.0L189.07 347.0H189.32L189.92 351.0ZM191.88 351.0L192.47 336.1H192.72L193.32 351.0ZM195.88 351.0L196.47 347.5H196.72L197.32 351.0ZM199.28 351.0L199.88 348.0H200.12L200.72 351.0ZM202.78 351.0L203.38 347.5H203.62L204.22 351.0ZM206.28 351.0L206.88 348.0H207.12L207.72 351.0ZM209.28 351.0L209.88 347.5H210.12L210.72 351.0ZM212.68 351.0L213.28 335.0H213.53L214.12 351.0ZM216.08 351.0L216.68 348.0H216.93L217.53 351.0ZM219.78 351.0L220.38 347.5H220.62L221.22 351.0ZM223.28 351.0L223.88 348.0H224.12L224.72 351.0ZM226.38 351.0L226.97 344.5H227.22L227.82 351.0ZM229.78 351.0L230.38 348.0H230.62L231.22 351.0ZM233.53 351.0L234.10 303.8H234.50L235.08 351.0ZM237.78 351.0L238.38 348.7H238.62L239.22 351.0ZM240.78 351.0L241.38 343.3H241.62L242.22 351.0ZM244.28 351.0L244.88 348.5H245.12L245.72 351.0ZM247.78 351.0L248.38 348.5H248.62L249.22 351.0ZM319.27 351.0L319.88 341.0H320.12L320.73 351.0ZM322.77 351.0L323.38 348.0H323.62L324.23 351.0ZM315.77 351.0L316.38 348.5H316.62L317.23 351.0Z" fill="#222"/>
<path d="M12.9 205.0V351.0M11.6 278.0H12.9M11.9 205.5H12.9" stroke="#a0a0a0" stroke-width="1.2" fill="none"/>
<text x="11.4" y="206.4" font-size="4.6" font-weight="bold" text-anchor="end" fill="#222" stroke="#222" stroke-width="0.2">100</text>
<text x="3.9" y="279.8" font-size="4.6" font-weight="bold" text-anchor="middle" fill="#222" stroke="#222" stroke-width="0.2">%</text>
<text x="8.4" y="353.0" font-size="4.6" font-weight="bold" text-anchor="middle" fill="#222" stroke="#222" stroke-width="0.2">0</text>
<text x="15.0" y="357.5" font-size="4.7" font-weight="bold" text-anchor="middle" fill="#111" stroke="#111" stroke-width="0.15">999.0</text>
<text x="111.0" y="357.5" font-size="4.7" font-weight="bold" text-anchor="middle" fill="#111" stroke="#111" stroke-width="0.15">1401.4</text>
<text x="206.6" y="357.5" font-size="4.7" font-weight="bold" text-anchor="middle" fill="#111" stroke="#111" stroke-width="0.15">1803.8</text>
<text x="301.8" y="357.5" font-size="4.7" font-weight="bold" text-anchor="middle" fill="#111" stroke="#111" stroke-width="0.15">2206.2</text>
<text x="397.0" y="357.5" font-size="4.7" font-weight="bold" text-anchor="middle" fill="#111" stroke="#111" stroke-width="0.15">2608.6</text>
<text x="490.5" y="357.5" font-size="4.7" font-weight="bold" text-anchor="middle" fill="#111" stroke="#111" stroke-width="0.15">3011.0</text>
<text x="499.8" y="369.3" font-size="4.75" font-weight="bold" text-anchor="end" fill="#111" stroke="#111" stroke-width="0.15">Mass (m/z)</text>
<g font-size="12.6" fill="#1a1a1a" stroke="#1a1a1a" stroke-width="0.4"><text transform="translate(356.8 216.3) scale(1.03 1)" text-anchor="middle">M</text><text transform="translate(367.4 216.3) scale(0.93 1)" text-anchor="middle">D</text><text transform="translate(375.6 216.3) scale(0.88 1)" text-anchor="middle">A</text><text transform="translate(382.2 216.3) scale(1.0 1)" text-anchor="middle">-</text><text transform="translate(389.8 216.3) scale(1.03 1)" text-anchor="middle">M</text><text transform="translate(398.8 216.3) scale(0.9 1)" text-anchor="middle">B</text><text transform="translate(405.8 216.3) scale(1.0 1)" text-anchor="middle">-</text><text transform="translate(412.0 216.3) scale(1.0 1)" text-anchor="middle">2</text><text transform="translate(419.0 216.3) scale(1.0 1)" text-anchor="middle">3</text><text transform="translate(426.4 216.3) scale(1.0 1)" text-anchor="middle">1</text><text transform="translate(437.9 216.3) scale(0.95 1)" text-anchor="middle">c</text><text transform="translate(442.9 216.3) scale(1.0 1)" text-anchor="middle">l</text><text transform="translate(448.3 216.3) scale(1.0 1)" text-anchor="middle">o</text><text transform="translate(456.3 216.3) scale(0.95 1)" text-anchor="middle">n</text><text transform="translate(463.6 216.3) scale(0.92 1)" text-anchor="middle">e</text><text transform="translate(472.7 216.3) scale(1.0 1)" text-anchor="middle">1</text><text transform="translate(479.5 216.3) scale(1.0 1)" text-anchor="middle">3</text></g>
<path d="M11.7 537.2H250" stroke="#1a1a1a" stroke-width="1.8" fill="none"/>
<path d="M250 537.2H392" stroke="#444" stroke-width="1.4" fill="none"/>
<path d="M392 537.2H486.8" stroke="#8c8c8c" stroke-width="1.4" fill="none"/>
<path d="M12.10 537.2L12.90 534.9L13.70 537.2ZM13.38 537.2L14.18 534.4L14.98 537.2ZM14.70 537.2L15.50 533.5L16.30 537.2ZM15.65 537.2L16.45 535.7L17.25 537.2ZM17.14 537.2L17.94 534.8L18.74 537.2ZM18.20 537.2L19.00 532.2L19.80 537.2ZM19.43 537.2L20.23 532.8L21.03 537.2ZM20.66 537.2L21.46 533.5L22.26 537.2ZM21.67 537.2L22.47 533.5L23.27 537.2ZM23.18 537.2L23.98 533.9L24.78 537.2ZM24.59 537.2L25.39 533.4L26.19 537.2ZM25.54 537.2L26.34 533.0L27.14 537.2ZM26.85 537.2L27.65 534.6L28.45 537.2ZM27.77 537.2L28.57 532.7L29.37 537.2ZM29.01 537.2L29.81 533.2L30.61 537.2ZM30.52 537.2L31.32 533.2L32.12 537.2ZM32.07 537.2L32.87 534.3L33.67 537.2ZM33.53 537.2L34.33 534.1L35.13 537.2ZM35.08 537.2L35.88 532.6L36.68 537.2ZM36.05 537.2L36.85 535.2L37.65 537.2ZM37.10 537.2L37.90 532.3L38.70 537.2ZM38.31 537.2L39.11 533.5L39.91 537.2ZM39.42 537.2L40.22 533.9L41.02 537.2ZM40.59 537.2L41.39 534.5L42.19 537.2ZM41.90 537.2L42.70 533.7L43.50 537.2ZM43.43 537.2L44.23 533.3L45.03 537.2ZM44.98 537.2L45.78 532.7L46.58 537.2ZM46.57 537.2L47.37 533.4L48.17 537.2ZM47.59 537.2L48.39 532.7L49.19 537.2ZM49.16 537.2L49.96 532.5L50.76 537.2ZM50.46 537.2L51.26 533.2L52.06 537.2ZM51.51 537.2L52.31 532.8L53.11 537.2ZM52.81 537.2L53.61 534.7L54.41 537.2ZM53.76 537.2L54.56 532.7L55.36 537.2ZM55.35 537.2L56.15 535.4L56.95 537.2ZM56.81 537.2L57.61 534.3L58.41 537.2ZM57.81 537.2L58.61 534.7L59.41 537.2ZM59.25 537.2L60.05 532.6L60.85 537.2ZM60.18 537.2L60.98 533.5L61.78 537.2ZM61.11 537.2L61.91 533.2L62.71 537.2ZM62.25 537.2L63.05 532.6L63.85 537.2ZM63.83 537.2L64.63 533.9L65.43 537.2ZM65.43 537.2L66.23 534.6L67.03 537.2ZM66.39 537.2L67.19 533.6L67.99 537.2ZM67.31 537.2L68.11 535.0L68.91 537.2ZM68.49 537.2L69.29 533.6L70.09 537.2ZM69.50 537.2L70.30 535.6L71.10 537.2ZM71.01 537.2L71.81 534.6L72.61 537.2ZM72.58 537.2L73.38 532.6L74.18 537.2ZM73.75 537.2L74.55 534.1L75.35 537.2ZM75.01 537.2L75.81 533.4L76.61 537.2ZM76.33 537.2L77.13 533.7L77.93 537.2ZM77.66 537.2L78.46 532.4L79.26 537.2ZM78.92 537.2L79.72 534.2L80.52 537.2ZM80.32 537.2L81.12 534.9L81.92 537.2ZM81.43 537.2L82.23 532.3L83.03 537.2ZM82.70 537.2L83.50 533.8L84.30 537.2ZM83.60 537.2L84.40 534.2L85.20 537.2ZM84.91 537.2L85.71 535.6L86.51 537.2ZM86.24 537.2L87.04 533.5L87.84 537.2ZM87.18 537.2L87.98 533.5L88.78 537.2ZM88.41 537.2L89.21 533.3L90.01 537.2ZM89.56 537.2L90.36 533.2L91.16 537.2ZM90.97 537.2L91.77 535.6L92.57 537.2ZM91.91 537.2L92.71 533.3L93.51 537.2ZM93.49 537.2L94.29 534.8L95.09 537.2ZM94.71 537.2L95.51 533.6L96.31 537.2ZM95.83 537.2L96.63 534.4L97.43 537.2ZM96.95 537.2L97.75 534.4L98.55 537.2ZM98.27 537.2L99.07 534.6L99.87 537.2ZM99.43 537.2L100.23 533.0L101.03 537.2ZM100.35 537.2L101.15 533.7L101.95 537.2ZM101.77 537.2L102.57 534.6L103.37 537.2ZM102.82 537.2L103.62 532.9L104.42 537.2ZM103.89 537.2L104.69 535.0L105.49 537.2ZM105.09 537.2L105.89 533.3L106.69 537.2ZM106.06 537.2L106.86 534.6L107.66 537.2ZM107.20 537.2L108.00 532.8L108.80 537.2ZM108.40 537.2L109.20 532.7L110.00 537.2ZM109.42 537.2L110.22 534.5L111.02 537.2ZM110.78 537.2L111.58 532.6L112.38 537.2ZM111.99 537.2L112.79 534.9L113.59 537.2ZM112.98 537.2L113.78 533.8L114.58 537.2ZM114.01 537.2L114.81 532.9L115.61 537.2ZM115.50 537.2L116.30 535.1L117.10 537.2ZM116.59 537.2L117.39 532.9L118.19 537.2ZM117.94 537.2L118.74 532.9L119.54 537.2ZM119.09 537.2L119.89 535.2L120.69 537.2ZM120.19 537.2L120.99 532.9L121.79 537.2ZM121.28 537.2L122.08 534.5L122.88 537.2ZM122.47 537.2L123.27 534.2L124.07 537.2ZM123.66 537.2L124.46 532.5L125.26 537.2ZM124.67 537.2L125.47 535.7L126.27 537.2ZM126.23 537.2L127.03 532.6L127.83 537.2ZM127.82 537.2L128.62 534.2L129.42 537.2ZM129.38 537.2L130.18 532.5L130.98 537.2ZM130.44 537.2L131.24 533.1L132.04 537.2ZM131.92 537.2L132.72 533.4L133.52 537.2ZM133.19 537.2L133.99 534.7L134.79 537.2ZM134.33 537.2L135.13 534.9L135.93 537.2ZM135.27 537.2L136.07 533.6L136.87 537.2ZM136.38 537.2L137.18 532.9L137.98 537.2ZM137.31 537.2L138.11 532.5L138.91 537.2ZM138.69 537.2L139.49 532.5L140.29 537.2ZM140.22 537.2L141.02 532.6L141.82 537.2ZM141.52 537.2L142.32 535.7L143.12 537.2ZM142.95 537.2L143.75 535.1L144.55 537.2ZM144.06 537.2L144.86 533.4L145.66 537.2ZM145.32 537.2L146.12 534.3L146.92 537.2ZM146.88 537.2L147.68 533.6L148.48 537.2ZM148.02 537.2L148.82 534.8L149.62 537.2ZM149.52 537.2L150.32 534.0L151.12 537.2ZM150.97 537.2L151.77 534.5L152.57 537.2ZM152.01 537.2L152.81 533.8L153.61 537.2ZM153.48 537.2L154.28 535.1L155.08 537.2ZM154.93 537.2L155.73 532.5L156.53 537.2ZM156.40 537.2L157.20 532.8L158.00 537.2ZM157.30 537.2L158.10 533.5L158.90 537.2ZM158.81 537.2L159.61 535.5L160.41 537.2ZM159.90 537.2L160.70 534.5L161.50 537.2ZM161.17 537.2L161.97 534.1L162.77 537.2ZM162.40 537.2L163.20 533.2L164.00 537.2ZM163.30 537.2L164.10 535.1L164.90 537.2ZM164.29 537.2L165.09 534.9L165.89 537.2ZM165.24 537.2L166.04 532.7L166.84 537.2ZM166.73 537.2L167.53 535.0L168.33 537.2ZM167.99 537.2L168.79 534.4L169.59 537.2ZM169.11 537.2L169.91 534.3L170.71 537.2ZM170.46 537.2L171.26 533.7L172.06 537.2ZM171.61 537.2L172.41 534.7L173.21 537.2ZM172.74 537.2L173.54 534.9L174.34 537.2ZM174.03 537.2L174.83 533.3L175.63 537.2ZM175.20 537.2L176.00 535.0L176.80 537.2ZM176.22 537.2L177.02 534.2L177.82 537.2ZM177.54 537.2L178.34 533.2L179.14 537.2ZM178.71 537.2L179.51 533.1L180.31 537.2ZM180.05 537.2L180.85 534.1L181.65 537.2ZM181.21 537.2L182.01 533.9L182.81 537.2ZM182.60 537.2L183.40 534.1L184.20 537.2ZM183.98 537.2L184.78 534.0L185.58 537.2ZM185.06 537.2L185.86 533.8L186.66 537.2ZM186.44 537.2L187.24 535.0L188.04 537.2ZM187.64 537.2L188.44 534.1L189.24 537.2ZM189.16 537.2L189.96 532.8L190.76 537.2ZM190.32 537.2L191.12 532.9L191.92 537.2ZM191.77 537.2L192.57 534.5L193.37 537.2ZM193.00 537.2L193.80 534.9L194.60 537.2ZM194.47 537.2L195.27 533.5L196.07 537.2ZM195.99 537.2L196.79 533.1L197.59 537.2ZM197.35 537.2L198.15 533.3L198.95 537.2ZM198.65 537.2L199.45 534.9L200.25 537.2ZM199.96 537.2L200.76 535.2L201.56 537.2ZM200.96 537.2L201.76 533.2L202.56 537.2ZM201.89 537.2L202.69 535.0L203.49 537.2ZM202.86 537.2L203.66 532.9L204.46 537.2ZM203.89 537.2L204.69 535.1L205.49 537.2ZM205.38 537.2L206.18 535.4L206.98 537.2ZM206.87 537.2L207.67 534.2L208.47 537.2ZM208.35 537.2L209.15 533.5L209.95 537.2ZM209.66 537.2L210.46 533.9L211.26 537.2ZM210.58 537.2L211.38 533.9L212.18 537.2ZM211.84 537.2L212.64 534.1L213.44 537.2ZM212.82 537.2L213.62 534.0L214.42 537.2ZM214.37 537.2L215.17 535.6L215.97 537.2ZM215.50 537.2L216.30 534.4L217.10 537.2ZM216.98 537.2L217.78 535.1L218.58 537.2ZM218.00 537.2L218.80 535.1L219.60 537.2ZM219.33 537.2L220.13 534.0L220.93 537.2ZM220.51 537.2L221.31 534.9L222.11 537.2ZM221.69 537.2L222.49 534.9L223.29 537.2ZM222.88 537.2L223.68 535.5L224.48 537.2ZM224.13 537.2L224.93 533.5L225.73 537.2ZM225.32 537.2L226.12 534.0L226.92 537.2ZM226.33 537.2L227.13 534.1L227.93 537.2ZM227.76 537.2L228.56 534.2L229.36 537.2ZM229.02 537.2L229.82 534.6L230.62 537.2ZM230.37 537.2L231.17 533.6L231.97 537.2ZM231.38 537.2L232.18 535.5L232.98 537.2ZM232.80 537.2L233.60 533.6L234.40 537.2ZM234.06 537.2L234.86 534.7L235.66 537.2ZM235.47 537.2L236.27 535.3L237.07 537.2ZM236.55 537.2L237.35 535.2L238.15 537.2ZM237.86 537.2L238.66 535.0L239.46 537.2ZM238.93 537.2L239.73 534.1L240.53 537.2ZM240.49 537.2L241.29 535.0L242.09 537.2ZM241.89 537.2L242.69 534.7L243.49 537.2ZM243.38 537.2L244.18 534.4L244.98 537.2ZM244.47 537.2L245.27 535.2L246.07 537.2ZM245.39 537.2L246.19 534.6L246.99 537.2ZM246.56 537.2L247.36 535.3L248.16 537.2ZM247.71 537.2L248.51 535.0L249.31 537.2ZM249.15 537.2L249.95 535.4L250.75 537.2ZM250.74 537.2L251.54 535.8L252.34 537.2ZM252.94 537.2L253.74 535.9L254.54 537.2ZM255.49 537.2L256.29 535.3L257.09 537.2ZM257.63 537.2L258.43 535.8L259.23 537.2ZM260.01 537.2L260.81 535.2L261.61 537.2ZM261.91 537.2L262.71 535.4L263.51 537.2ZM264.65 537.2L265.45 535.9L266.25 537.2ZM266.30 537.2L267.10 536.2L267.90 537.2ZM268.67 537.2L269.47 535.5L270.27 537.2ZM271.41 537.2L272.21 535.2L273.01 537.2ZM273.07 537.2L273.87 536.3L274.67 537.2ZM274.76 537.2L275.56 536.3L276.36 537.2ZM277.12 537.2L277.92 535.2L278.72 537.2ZM279.77 537.2L280.57 536.2L281.37 537.2ZM282.37 537.2L283.17 536.1L283.97 537.2ZM284.30 537.2L285.10 535.4L285.90 537.2ZM285.73 537.2L286.53 536.5L287.33 537.2ZM288.28 537.2L289.08 536.1L289.88 537.2ZM290.12 537.2L290.92 535.7L291.72 537.2ZM292.43 537.2L293.23 536.6L294.03 537.2ZM294.23 537.2L295.03 535.9L295.83 537.2ZM296.26 537.2L297.06 536.3L297.86 537.2ZM298.44 537.2L299.24 535.1L300.04 537.2ZM300.32 537.2L301.12 536.1L301.92 537.2ZM301.80 537.2L302.60 536.5L303.40 537.2ZM304.10 537.2L304.90 536.7L305.70 537.2ZM306.73 537.2L307.53 535.7L308.33 537.2ZM308.18 537.2L308.98 535.7L309.78 537.2ZM310.04 537.2L310.84 535.9L311.64 537.2ZM312.47 537.2L313.27 536.4L314.07 537.2ZM314.79 537.2L315.59 536.0L316.39 537.2ZM317.30 537.2L318.10 536.5L318.90 537.2ZM319.73 537.2L320.53 535.6L321.33 537.2ZM322.04 537.2L322.84 536.2L323.64 537.2ZM323.51 537.2L324.31 536.2L325.11 537.2ZM325.34 537.2L326.14 535.9L326.94 537.2ZM327.65 537.2L328.45 536.1L329.25 537.2ZM329.23 537.2L330.03 536.0L330.83 537.2ZM331.47 537.2L332.27 536.6L333.07 537.2ZM334.11 537.2L334.91 536.0L335.71 537.2ZM335.59 537.2L336.39 535.7L337.19 537.2ZM337.10 537.2L337.90 536.4L338.70 537.2ZM339.49 537.2L340.29 536.1L341.09 537.2ZM341.62 537.2L342.42 536.0L343.22 537.2ZM343.60 537.2L344.40 536.4L345.20 537.2ZM347.54 537.2L348.34 536.5L349.14 537.2ZM349.66 537.2L350.46 536.5L351.26 537.2ZM353.37 537.2L354.17 536.4L354.97 537.2ZM354.73 537.2L355.53 536.7L356.33 537.2ZM356.41 537.2L357.21 536.5L358.01 537.2ZM360.14 537.2L360.94 536.7L361.74 537.2ZM362.60 537.2L363.40 536.9L364.20 537.2ZM368.34 537.2L369.14 536.5L369.94 537.2ZM372.32 537.2L373.12 536.8L373.92 537.2ZM374.73 537.2L375.53 536.5L376.33 537.2ZM377.16 537.2L377.96 536.7L378.76 537.2ZM378.68 537.2L379.48 536.8L380.28 537.2ZM380.27 537.2L381.07 536.7L381.87 537.2ZM384.09 537.2L384.89 536.5L385.69 537.2ZM385.44 537.2L386.24 536.5L387.04 537.2ZM388.08 537.2L388.88 536.3L389.68 537.2ZM389.95 537.2L390.75 536.7L391.55 537.2Z" fill="#222"/>
<path d="M125.30 392.0H126.70V425.9H125.30Z" fill="#a8a8a8"/>
<path d="M13.47 537.2L14.07 531.3H14.32L14.92 537.2ZM17.67 537.2L18.27 534.5H18.52L19.12 537.2ZM21.27 537.2L21.88 535.0H22.12L22.73 537.2ZM24.27 537.2L24.88 534.5H25.12L25.73 537.2ZM27.27 537.2L27.88 534.5H28.12L28.73 537.2ZM30.27 537.2L30.88 535.0H31.12L31.73 537.2ZM33.27 537.2L33.88 533.4H34.12L34.73 537.2ZM36.77 537.2L37.38 534.5H37.62L38.23 537.2ZM39.77 537.2L40.38 521.0H40.62L41.23 537.2ZM43.27 537.2L43.88 533.0H44.12L44.73 537.2ZM46.27 537.2L46.88 534.5H47.12L47.73 537.2ZM49.57 537.2L50.17 534.0H50.42L51.02 537.2ZM52.77 537.2L53.38 535.0H53.62L54.23 537.2ZM56.27 537.2L56.88 535.0H57.12L57.73 537.2ZM58.77 537.2L59.38 534.5H59.62L60.23 537.2ZM61.98 537.2L62.58 528.5H62.83L63.43 537.2ZM65.28 537.2L65.88 535.0H66.12L66.72 537.2ZM68.28 537.2L68.88 534.0H69.12L69.72 537.2ZM71.78 537.2L72.38 535.0H72.62L73.22 537.2ZM75.18 537.2L75.78 532.7H76.03L76.62 537.2ZM78.58 537.2L79.17 534.5H79.42L80.02 537.2ZM81.98 537.2L82.58 530.0H82.83L83.42 537.2ZM84.98 537.2L85.58 532.7H85.83L86.42 537.2ZM88.32 537.2L88.90 499.3H89.30L89.88 537.2ZM91.78 537.2L92.38 534.0H92.62L93.22 537.2ZM95.28 537.2L95.88 533.0H96.12L96.72 537.2ZM98.72 537.2L99.30 514.0H99.70L100.28 537.2ZM102.28 537.2L102.88 534.0H103.12L103.72 537.2ZM105.78 537.2L106.38 529.7H106.62L107.22 537.2ZM109.28 537.2L109.88 534.0H110.12L110.72 537.2ZM112.98 537.2L113.58 524.0H113.83L114.42 537.2ZM115.78 537.2L116.38 533.0H116.62L117.22 537.2ZM118.62 537.2L119.20 513.5H119.60L120.18 537.2ZM121.92 537.2L122.50 515.4H122.90L123.48 537.2ZM125.15 537.2L125.58 425.4H126.42L126.85 537.2ZM128.97 537.2L129.57 520.2H129.82L130.42 537.2ZM132.42 537.2L133.00 507.7H133.40L133.97 537.2ZM136.28 537.2L136.88 532.8H137.12L137.72 537.2ZM139.78 537.2L140.38 521.8H140.62L141.22 537.2ZM142.88 537.2L143.47 526.7H143.72L144.32 537.2ZM146.22 537.2L146.80 487.7H147.20L147.78 537.2ZM149.58 537.2L150.18 530.7H150.43L151.03 537.2ZM153.08 537.2L153.68 530.7H153.93L154.53 537.2ZM156.78 537.2L157.38 534.0H157.62L158.22 537.2ZM160.28 537.2L160.88 535.0H161.12L161.72 537.2ZM163.78 537.2L164.38 534.5H164.62L165.22 537.2ZM167.28 537.2L167.88 535.0H168.12L168.72 537.2ZM170.78 537.2L171.38 534.5H171.62L172.22 537.2ZM174.28 537.2L174.88 535.0H175.12L175.72 537.2ZM177.28 537.2L177.88 534.5H178.12L178.72 537.2ZM180.28 537.2L180.88 535.0H181.12L181.72 537.2ZM183.38 537.2L183.97 524.8H184.22L184.82 537.2ZM186.78 537.2L187.38 534.5H187.62L188.22 537.2ZM190.28 537.2L190.88 535.0H191.12L191.72 537.2ZM193.78 537.2L194.38 535.0H194.62L195.22 537.2ZM197.28 537.2L197.88 534.5H198.12L198.72 537.2ZM201.28 537.2L201.88 535.0H202.12L202.72 537.2ZM205.47 537.2L206.07 534.3H206.32L206.92 537.2ZM209.28 537.2L209.88 535.0H210.12L210.72 537.2ZM213.28 537.2L213.88 535.0H214.12L214.72 537.2ZM217.28 537.2L217.88 534.7H218.12L218.72 537.2ZM221.28 537.2L221.88 535.0H222.12L222.72 537.2ZM225.28 537.2L225.88 535.0H226.12L226.72 537.2ZM228.18 537.2L228.78 533.7H229.03L229.62 537.2ZM231.82 537.2L232.40 509.8H232.80L233.38 537.2ZM235.38 537.2L235.97 535.0H236.22L236.82 537.2ZM238.38 537.2L238.97 533.7H239.22L239.82 537.2ZM242.28 537.2L242.88 535.0H243.12L243.72 537.2ZM246.28 537.2L246.88 535.0H247.12L247.72 537.2ZM317.27 537.2L317.88 520.0H318.12L318.73 537.2ZM320.77 537.2L321.38 534.0H321.62L322.23 537.2ZM313.77 537.2L314.38 535.0H314.62L315.23 537.2Z" fill="#222"/>
<path d="M11.7 392.0V537.2M10.4 464.6H11.7M10.7 392.5H11.7" stroke="#a0a0a0" stroke-width="1.2" fill="none"/>
<text x="8.7" y="393.5" font-size="4.6" font-weight="bold" text-anchor="end" fill="#222" stroke="#222" stroke-width="0.2">100</text>
<text x="3.9" y="465.8" font-size="4.6" font-weight="bold" text-anchor="middle" fill="#222" stroke="#222" stroke-width="0.2">%</text>
<text x="9.0" y="539.6" font-size="4.6" font-weight="bold" text-anchor="middle" fill="#222" stroke="#222" stroke-width="0.2">0</text>
<text x="14.2" y="543.5" font-size="4.7" font-weight="bold" text-anchor="middle" fill="#111" stroke="#111" stroke-width="0.15">999.0</text>
<text x="109.6" y="543.5" font-size="4.7" font-weight="bold" text-anchor="middle" fill="#111" stroke="#111" stroke-width="0.15">1401.4</text>
<text x="204.7" y="543.5" font-size="4.7" font-weight="bold" text-anchor="middle" fill="#111" stroke="#111" stroke-width="0.15">1803.8</text>
<text x="300.0" y="543.5" font-size="4.7" font-weight="bold" text-anchor="middle" fill="#111" stroke="#111" stroke-width="0.15">2206.2</text>
<text x="395.0" y="543.5" font-size="4.7" font-weight="bold" text-anchor="middle" fill="#111" stroke="#111" stroke-width="0.15">2608.6</text>
<text x="490.6" y="543.5" font-size="4.7" font-weight="bold" text-anchor="middle" fill="#111" stroke="#111" stroke-width="0.15">3011.0</text>
<text x="497.3" y="548.7" font-size="4.75" font-weight="bold" text-anchor="end" fill="#111" stroke="#111" stroke-width="0.15">Mass (m/z)</text>
<g font-size="12.6" fill="#1a1a1a" stroke="#1a1a1a" stroke-width="0.4"><text transform="translate(374.7 406.6) scale(1.03 1)" text-anchor="middle">M</text><text transform="translate(385.3 406.6) scale(0.93 1)" text-anchor="middle">D</text><text transform="translate(393.5 406.6) scale(0.88 1)" text-anchor="middle">A</text><text transform="translate(400.1 406.6) scale(1.0 1)" text-anchor="middle">-</text><text transform="translate(407.7 406.6) scale(1.03 1)" text-anchor="middle">M</text><text transform="translate(416.7 406.6) scale(0.9 1)" text-anchor="middle">B</text><text transform="translate(423.8 406.6) scale(1.0 1)" text-anchor="middle">-</text><text transform="translate(430.1 406.6) scale(1.0 1)" text-anchor="middle">2</text><text transform="translate(437.1 406.6) scale(1.0 1)" text-anchor="middle">3</text><text transform="translate(444.6 406.6) scale(1.0 1)" text-anchor="middle">1</text><text transform="translate(457.0 406.6) scale(0.88 1)" text-anchor="middle">G</text><text transform="translate(465.3 406.6) scale(0.82 1)" text-anchor="middle">F</text><text transform="translate(472.3 406.6) scale(0.92 1)" text-anchor="middle">P</text><text transform="translate(479.5 406.6) scale(0.92 1)" text-anchor="middle">+</text></g>
<text x="91.2" y="4.9" font-size="5.8" fill="#333" stroke="#333" stroke-width="0.2">Gb3</text>
<path d="M92.80 9.20H109.10" stroke="#333" stroke-width="0.85"/><circle cx="92.80" cy="9.20" r="1.72" fill="#fff" stroke="#1a1a1a" stroke-width="1.15"/><circle cx="99.20" cy="9.20" r="1.72" fill="#fff" stroke="#1a1a1a" stroke-width="1.15"/><circle cx="105.60" cy="9.20" r="2.15" fill="#0a0a0a"/><text x="109.60" y="11.10" font-size="5.8" fill="#5a5a5a" stroke="#5a5a5a" stroke-width="0.22">Cer<tspan font-size="4.8" font-weight="bold" dy="0.5">**</tspan></text>
<text x="91.2" y="18.2" font-size="4.6" font-weight="bold" fill="#111" stroke="#111" stroke-width="0.15">1326.8</text>
<text x="127.6" y="14.9" font-size="5.8" fill="#333" stroke="#333" stroke-width="0.2">GM3</text>
<path d="M129.20 19.40H139.10" stroke="#333" stroke-width="0.85"/><path d="M129.20 19.40V26.60" stroke="#111" stroke-width="1"/><circle cx="129.20" cy="19.40" r="1.72" fill="#fff" stroke="#1a1a1a" stroke-width="1.15"/><circle cx="135.60" cy="19.40" r="2.15" fill="#0a0a0a"/><path d="M129.20 24.00L131.80 26.60L129.20 29.20L126.60 26.60Z" fill="#222" stroke="#000" stroke-width="0.9"/><text x="139.60" y="21.30" font-size="5.8" fill="#5a5a5a" stroke="#5a5a5a" stroke-width="0.22">Cer<tspan font-size="4.8" font-weight="bold" dy="0.5">**</tspan></text>
<text x="127.9" y="35.7" font-size="4.6" font-weight="bold" fill="#111" stroke="#111" stroke-width="0.15">1483.5</text>
<text x="149.3" y="33.3" font-size="5.8" fill="#333" stroke="#333" stroke-width="0.2">Gb4/GA1</text>
<path d="M150.80 37.40H175.30" stroke="#333" stroke-width="0.85"/><circle cx="150.80" cy="37.40" r="1.72" fill="#fff" stroke="#1a1a1a" stroke-width="1.15"/><rect x="156.20" y="35.80" width="3.20" height="3.20" fill="#fff" stroke="#1a1a1a" stroke-width="1.15"/><circle cx="164.80" cy="37.40" r="1.72" fill="#fff" stroke="#1a1a1a" stroke-width="1.15"/><circle cx="171.80" cy="37.40" r="2.15" fill="#0a0a0a"/><text x="175.80" y="39.30" font-size="5.8" fill="#5a5a5a" stroke="#5a5a5a" stroke-width="0.22">Cer<tspan font-size="4.8" font-weight="bold" dy="0.5">**</tspan></text>
<path d="M150.80 44.80H175.30" stroke="#333" stroke-width="0.85"/><rect x="149.20" y="43.20" width="3.20" height="3.20" fill="#fff" stroke="#1a1a1a" stroke-width="1.15"/><circle cx="157.80" cy="44.80" r="1.72" fill="#fff" stroke="#1a1a1a" stroke-width="1.15"/><circle cx="164.80" cy="44.80" r="1.72" fill="#fff" stroke="#1a1a1a" stroke-width="1.15"/><circle cx="171.80" cy="44.80" r="2.15" fill="#0a0a0a"/><text x="175.80" y="46.70" font-size="5.8" fill="#5a5a5a" stroke="#5a5a5a" stroke-width="0.22">Cer<tspan font-size="4.8" font-weight="bold" dy="0.5">**</tspan></text>
<text x="149.3" y="53.7" font-size="4.6" font-weight="bold" fill="#111" stroke="#111" stroke-width="0.15">1571.9</text>
<text x="196.4" y="95.9" font-size="5.8" fill="#333" stroke="#333" stroke-width="0.2">Gb5</text>
<path d="M199.00 101.20H230.30" stroke="#333" stroke-width="0.85"/><circle cx="199.00" cy="101.20" r="1.72" fill="#fff" stroke="#1a1a1a" stroke-width="1.15"/><rect x="204.35" y="99.60" width="3.20" height="3.20" fill="#fff" stroke="#1a1a1a" stroke-width="1.15"/><circle cx="212.90" cy="101.20" r="1.72" fill="#fff" stroke="#1a1a1a" stroke-width="1.15"/><circle cx="219.85" cy="101.20" r="1.72" fill="#fff" stroke="#1a1a1a" stroke-width="1.15"/><circle cx="226.80" cy="101.20" r="2.15" fill="#0a0a0a"/><text x="230.80" y="103.10" font-size="5.8" fill="#5a5a5a" stroke="#5a5a5a" stroke-width="0.22">Cer<tspan font-size="4.8" font-weight="bold" dy="0.5">**</tspan></text>
<text x="198.0" y="109.9" font-size="4.6" font-weight="bold" fill="#111" stroke="#111" stroke-width="0.15">1775.9</text>
<text x="233.5" y="119.8" font-size="5.8" fill="#333" stroke="#333" stroke-width="0.2">Gm1b</text>
<path d="M235.40 124.00H259.60" stroke="#333" stroke-width="0.85"/><path d="M235.40 124.00V131.20" stroke="#111" stroke-width="1"/><circle cx="235.40" cy="124.00" r="1.72" fill="#fff" stroke="#1a1a1a" stroke-width="1.15"/><rect x="240.70" y="122.40" width="3.20" height="3.20" fill="#fff" stroke="#1a1a1a" stroke-width="1.15"/><circle cx="249.20" cy="124.00" r="1.72" fill="#fff" stroke="#1a1a1a" stroke-width="1.15"/><circle cx="256.10" cy="124.00" r="2.15" fill="#0a0a0a"/><path d="M235.40 128.60L238.00 131.20L235.40 133.80L232.80 131.20Z" fill="#222" stroke="#000" stroke-width="0.9"/><text x="260.10" y="125.90" font-size="5.8" fill="#5a5a5a" stroke="#5a5a5a" stroke-width="0.22">Cer<tspan font-size="4.8" font-weight="bold" dy="0.5">**</tspan></text>
<text x="235.0" y="139.4" font-size="4.6" font-weight="bold" fill="#111" stroke="#111" stroke-width="0.15">1933.9</text>
<text x="162.0" y="142.3" font-size="5.8" fill="#333" stroke="#333" stroke-width="0.2">GM2</text>
<path d="M164.20 146.40H181.40" stroke="#333" stroke-width="0.85"/><path d="M171.05 146.40V154.20" stroke="#111" stroke-width="1"/><rect x="162.60" y="144.80" width="3.20" height="3.20" fill="#fff" stroke="#1a1a1a" stroke-width="1.15"/><circle cx="171.05" cy="146.40" r="1.72" fill="#fff" stroke="#1a1a1a" stroke-width="1.15"/><circle cx="177.90" cy="146.40" r="2.15" fill="#0a0a0a"/><path d="M171.05 151.60L173.65 154.20L171.05 156.80L168.45 154.20Z" fill="#222" stroke="#000" stroke-width="0.9"/><text x="181.90" y="148.30" font-size="5.8" fill="#5a5a5a" stroke="#5a5a5a" stroke-width="0.22">Cer<tspan font-size="4.8" font-weight="bold" dy="0.5">**</tspan></text>
<text x="179.6" y="155.1" font-size="4.6" font-weight="bold" fill="#111" stroke="#111" stroke-width="0.15">1728.9</text>
<text x="281.4" y="139.1" font-size="5.8" fill="#333" stroke="#333" stroke-width="0.2">GL7</text>
<path d="M283.20 143.60H314.70" stroke="#333" stroke-width="0.85"/><path d="M283.20 143.60V150.80" stroke="#111" stroke-width="1"/><circle cx="283.20" cy="143.60" r="1.72" fill="#fff" stroke="#1a1a1a" stroke-width="1.15"/><rect x="288.60" y="142.00" width="3.20" height="3.20" fill="#fff" stroke="#1a1a1a" stroke-width="1.15"/><circle cx="297.20" cy="143.60" r="1.72" fill="#fff" stroke="#1a1a1a" stroke-width="1.15"/><circle cx="304.20" cy="143.60" r="1.72" fill="#fff" stroke="#1a1a1a" stroke-width="1.15"/><circle cx="311.20" cy="143.60" r="2.15" fill="#0a0a0a"/><path d="M283.20 148.20L285.80 150.80L283.20 153.40L280.60 150.80Z" fill="#222" stroke="#000" stroke-width="0.9"/><text x="315.20" y="145.50" font-size="5.8" fill="#5a5a5a" stroke="#5a5a5a" stroke-width="0.22">Cer<tspan font-size="4.8" font-weight="bold" dy="0.5">**</tspan></text>
<text x="283.0" y="159.7" font-size="4.6" font-weight="bold" fill="#111" stroke="#111" stroke-width="0.15">2137.0</text>
<text x="42.2" y="125.2" font-size="5.8" fill="#333" stroke="#333" stroke-width="0.2">LacCer</text>
<path d="M44.00 129.60H53.90" stroke="#333" stroke-width="0.85"/><circle cx="44.00" cy="129.60" r="1.72" fill="#fff" stroke="#1a1a1a" stroke-width="1.15"/><circle cx="50.40" cy="129.60" r="2.15" fill="#0a0a0a"/><text x="54.40" y="131.50" font-size="5.8" fill="#5a5a5a" stroke="#5a5a5a" stroke-width="0.22">Cer<tspan font-size="4.8" font-weight="bold" dy="0.5">**</tspan></text>
<text x="42.9" y="137.5" font-size="4.6" font-weight="bold" fill="#111" stroke="#111" stroke-width="0.15">1122.7</text>
<text x="62.6" y="149.4" font-size="4.6" font-weight="bold" fill="#111" stroke="#111" stroke-width="0.15">1214.7</text>
<text x="16.6" y="159.1" font-size="4.6" font-weight="bold" fill="#111" stroke="#111" stroke-width="0.15">1010.6</text>
<path d="M197.4 113.5V151" stroke="#111" stroke-width="0.9"/><path d="M195.9 148.5L197.4 151.5L198.9 148.5" stroke="#111" stroke-width="0.7" fill="none"/>
<text x="90.5" y="196.6" font-size="5.8" fill="#333" stroke="#333" stroke-width="0.2">Gb3</text>
<path d="M92.40 201.00H108.90" stroke="#333" stroke-width="0.85"/><circle cx="92.40" cy="201.00" r="1.72" fill="#fff" stroke="#1a1a1a" stroke-width="1.15"/><circle cx="98.90" cy="201.00" r="1.72" fill="#fff" stroke="#1a1a1a" stroke-width="1.15"/><circle cx="105.40" cy="201.00" r="2.15" fill="#0a0a0a"/><text x="109.40" y="202.90" font-size="5.8" fill="#5a5a5a" stroke="#5a5a5a" stroke-width="0.22">Cer<tspan font-size="4.8" font-weight="bold" dy="0.5">**</tspan></text>
<text x="90.5" y="209.7" font-size="4.6" font-weight="bold" fill="#111" stroke="#111" stroke-width="0.15">1326.7</text>
<text x="127.5" y="184.1" font-size="5.8" fill="#333" stroke="#333" stroke-width="0.2">GM3</text>
<path d="M128.80 187.80H138.70" stroke="#333" stroke-width="0.85"/><path d="M128.80 187.80V195.00" stroke="#111" stroke-width="1"/><circle cx="128.80" cy="187.80" r="1.72" fill="#fff" stroke="#1a1a1a" stroke-width="1.15"/><circle cx="135.20" cy="187.80" r="2.15" fill="#0a0a0a"/><path d="M128.80 192.40L131.40 195.00L128.80 197.60L126.20 195.00Z" fill="#222" stroke="#000" stroke-width="0.9"/><text x="139.20" y="189.70" font-size="5.8" fill="#5a5a5a" stroke="#5a5a5a" stroke-width="0.22">Cer<tspan font-size="4.8" font-weight="bold" dy="0.5">**</tspan></text>
<text x="128.8" y="205.4" font-size="4.6" font-weight="bold" fill="#111" stroke="#111" stroke-width="0.15">1483.7</text>
<text x="148.0" y="222.9" font-size="5.8" fill="#333" stroke="#333" stroke-width="0.2">Gb4/GA1</text>
<path d="M149.60 227.20H173.65" stroke="#333" stroke-width="0.85"/><circle cx="149.60" cy="227.20" r="1.72" fill="#fff" stroke="#1a1a1a" stroke-width="1.15"/><rect x="154.85" y="225.60" width="3.20" height="3.20" fill="#fff" stroke="#1a1a1a" stroke-width="1.15"/><circle cx="163.30" cy="227.20" r="1.72" fill="#fff" stroke="#1a1a1a" stroke-width="1.15"/><circle cx="170.15" cy="227.20" r="2.15" fill="#0a0a0a"/><text x="174.15" y="229.10" font-size="5.8" fill="#5a5a5a" stroke="#5a5a5a" stroke-width="0.22">Cer<tspan font-size="4.8" font-weight="bold" dy="0.5">**</tspan></text>
<path d="M149.80 235.00H173.55" stroke="#333" stroke-width="0.85"/><rect x="148.20" y="233.40" width="3.20" height="3.20" fill="#fff" stroke="#1a1a1a" stroke-width="1.15"/><circle cx="156.55" cy="235.00" r="1.72" fill="#fff" stroke="#1a1a1a" stroke-width="1.15"/><circle cx="163.30" cy="235.00" r="1.72" fill="#fff" stroke="#1a1a1a" stroke-width="1.15"/><circle cx="170.05" cy="235.00" r="2.15" fill="#0a0a0a"/><text x="174.05" y="236.90" font-size="5.8" fill="#5a5a5a" stroke="#5a5a5a" stroke-width="0.22">Cer<tspan font-size="4.8" font-weight="bold" dy="0.5">**</tspan></text>
<text x="149.0" y="242.1" font-size="4.6" font-weight="bold" fill="#111" stroke="#111" stroke-width="0.15">1571.8</text>
<text x="186.2" y="249.1" font-size="5.8" fill="#333" stroke="#333" stroke-width="0.2">GM2</text>
<path d="M188.20 253.20H205.50" stroke="#333" stroke-width="0.85"/><path d="M195.10 253.20V260.40" stroke="#111" stroke-width="1"/><rect x="186.60" y="251.60" width="3.20" height="3.20" fill="#fff" stroke="#1a1a1a" stroke-width="1.15"/><circle cx="195.10" cy="253.20" r="1.72" fill="#fff" stroke="#1a1a1a" stroke-width="1.15"/><circle cx="202.00" cy="253.20" r="2.15" fill="#0a0a0a"/><path d="M195.10 257.80L197.70 260.40L195.10 263.00L192.50 260.40Z" fill="#222" stroke="#000" stroke-width="0.9"/><text x="206.00" y="255.10" font-size="5.8" fill="#5a5a5a" stroke="#5a5a5a" stroke-width="0.22">Cer<tspan font-size="4.8" font-weight="bold" dy="0.5">**</tspan></text>
<text x="186.4" y="271.1" font-size="4.6" font-weight="bold" fill="#111" stroke="#111" stroke-width="0.15">1728.8</text>
<text x="233.0" y="283.4" font-size="5.8" fill="#333" stroke="#333" stroke-width="0.2">Gm1b</text>
<path d="M234.80 287.20H258.85" stroke="#333" stroke-width="0.85"/><path d="M234.80 287.20V294.40" stroke="#111" stroke-width="1"/><circle cx="234.80" cy="287.20" r="1.72" fill="#fff" stroke="#1a1a1a" stroke-width="1.15"/><rect x="240.05" y="285.60" width="3.20" height="3.20" fill="#fff" stroke="#1a1a1a" stroke-width="1.15"/><circle cx="248.50" cy="287.20" r="1.72" fill="#fff" stroke="#1a1a1a" stroke-width="1.15"/><circle cx="255.35" cy="287.20" r="2.15" fill="#0a0a0a"/><path d="M234.80 291.80L237.40 294.40L234.80 297.00L232.20 294.40Z" fill="#222" stroke="#000" stroke-width="0.9"/><text x="259.35" y="289.10" font-size="5.8" fill="#5a5a5a" stroke="#5a5a5a" stroke-width="0.22">Cer<tspan font-size="4.8" font-weight="bold" dy="0.5">**</tspan></text>
<text x="234.4" y="303.5" font-size="4.6" font-weight="bold" fill="#111" stroke="#111" stroke-width="0.15">1932.8</text>
<text x="205.2" y="314.6" font-size="5.8" fill="#333" stroke="#333" stroke-width="0.2">GD3</text>
<path d="M207.10 318.50H217.10" stroke="#333" stroke-width="0.85"/><path d="M207.10 318.50V333.30" stroke="#111" stroke-width="1"/><circle cx="207.10" cy="318.50" r="1.72" fill="#fff" stroke="#1a1a1a" stroke-width="1.15"/><circle cx="213.60" cy="318.50" r="2.15" fill="#0a0a0a"/><path d="M207.10 323.30L209.70 325.90L207.10 328.50L204.50 325.90Z" fill="#222" stroke="#000" stroke-width="0.9"/><path d="M207.10 330.70L209.70 333.30L207.10 335.90L204.50 333.30Z" fill="#222" stroke="#000" stroke-width="0.9"/><text x="217.60" y="320.40" font-size="5.8" fill="#5a5a5a" stroke="#5a5a5a" stroke-width="0.22">Cer<tspan font-size="4.8" font-weight="bold" dy="0.5">**</tspan></text>
<text x="213.6" y="333.3" font-size="4.6" font-weight="bold" fill="#111" stroke="#111" stroke-width="0.15">1844.8</text>
<text x="318.8" y="318.4" font-size="5.8" fill="#333" stroke="#333" stroke-width="0.2">Gd1α</text>
<path d="M321.00 322.50H345.35" stroke="#333" stroke-width="0.85"/><path d="M321.00 322.50V329.70" stroke="#111" stroke-width="1"/><path d="M327.95 322.50V329.70" stroke="#111" stroke-width="1"/><circle cx="321.00" cy="322.50" r="1.72" fill="#fff" stroke="#1a1a1a" stroke-width="1.15"/><rect x="326.35" y="320.90" width="3.20" height="3.20" fill="#fff" stroke="#1a1a1a" stroke-width="1.15"/><circle cx="334.90" cy="322.50" r="1.72" fill="#fff" stroke="#1a1a1a" stroke-width="1.15"/><circle cx="341.85" cy="322.50" r="2.15" fill="#0a0a0a"/><path d="M321.00 327.10L323.60 329.70L321.00 332.30L318.40 329.70Z" fill="#222" stroke="#000" stroke-width="0.9"/><path d="M327.95 327.10L330.55 329.70L327.95 332.30L325.35 329.70Z" fill="#222" stroke="#000" stroke-width="0.9"/><text x="345.85" y="324.40" font-size="5.8" fill="#5a5a5a" stroke="#5a5a5a" stroke-width="0.22">Cer<tspan font-size="4.8" font-weight="bold" dy="0.5">**</tspan></text>
<text x="320.5" y="339.2" font-size="4.6" font-weight="bold" fill="#111" stroke="#111" stroke-width="0.15">2293.9</text>
<text x="42.5" y="301.6" font-size="5.8" fill="#333" stroke="#333" stroke-width="0.2">LacCer</text>
<path d="M44.00 306.00H54.30" stroke="#333" stroke-width="0.85"/><circle cx="44.00" cy="306.00" r="1.72" fill="#fff" stroke="#1a1a1a" stroke-width="1.15"/><circle cx="50.80" cy="306.00" r="2.15" fill="#0a0a0a"/><text x="54.80" y="307.90" font-size="5.8" fill="#5a5a5a" stroke="#5a5a5a" stroke-width="0.22">Cer<tspan font-size="4.8" font-weight="bold" dy="0.5">**</tspan></text>
<text x="42.9" y="314.3" font-size="4.6" font-weight="bold" fill="#111" stroke="#111" stroke-width="0.15">1122.7</text>
<path d="M57.80 315.60H74.80" stroke="#333" stroke-width="0.85"/><circle cx="57.80" cy="315.60" r="1.72" fill="#fff" stroke="#1a1a1a" stroke-width="1.15"/><circle cx="64.55" cy="315.60" r="1.72" fill="#fff" stroke="#1a1a1a" stroke-width="1.15"/><circle cx="71.30" cy="315.60" r="2.15" fill="#0a0a0a"/><text x="75.30" y="317.50" font-size="5.8" fill="#5a5a5a" stroke="#5a5a5a" stroke-width="0.22">Cer<tspan font-size="4.8" font-weight="bold" dy="0.5">*</tspan></text>
<text x="64.3" y="323.0" font-size="4.6" font-weight="bold" fill="#111" stroke="#111" stroke-width="0.15">1214.6</text>
<path d="M15.60 331.40H25.70" stroke="#333" stroke-width="0.85"/><circle cx="15.60" cy="331.40" r="1.72" fill="#fff" stroke="#1a1a1a" stroke-width="1.15"/><circle cx="22.20" cy="331.40" r="2.15" fill="#0a0a0a"/><text x="26.20" y="333.30" font-size="5.8" fill="#5a5a5a" stroke="#5a5a5a" stroke-width="0.22">Cer<tspan font-size="4.8" font-weight="bold" dy="0.5">*</tspan></text>
<text x="15.6" y="339.7" font-size="4.6" font-weight="bold" fill="#111" stroke="#111" stroke-width="0.15">1010.5</text>
<text x="126.0" y="371.5" font-size="5.8" fill="#333" stroke="#333" stroke-width="0.2">GM3</text>
<path d="M127.60 375.60H137.50" stroke="#333" stroke-width="0.85"/><path d="M127.60 375.60V382.80" stroke="#111" stroke-width="1"/><circle cx="127.60" cy="375.60" r="1.72" fill="#fff" stroke="#1a1a1a" stroke-width="1.15"/><circle cx="134.00" cy="375.60" r="2.15" fill="#0a0a0a"/><path d="M127.60 380.20L130.20 382.80L127.60 385.40L125.00 382.80Z" fill="#222" stroke="#000" stroke-width="0.9"/><text x="138.00" y="377.50" font-size="5.8" fill="#5a5a5a" stroke="#5a5a5a" stroke-width="0.22">Cer<tspan font-size="4.8" font-weight="bold" dy="0.5">**</tspan></text>
<text x="126.8" y="391.5" font-size="4.6" font-weight="bold" fill="#111" stroke="#111" stroke-width="0.15">1483.7</text>
<text x="88.4" y="485.1" font-size="5.8" fill="#333" stroke="#333" stroke-width="0.2">Gb3</text>
<path d="M90.00 488.90H106.70" stroke="#333" stroke-width="0.85"/><circle cx="90.00" cy="488.90" r="1.72" fill="#fff" stroke="#1a1a1a" stroke-width="1.15"/><circle cx="96.60" cy="488.90" r="1.72" fill="#fff" stroke="#1a1a1a" stroke-width="1.15"/><circle cx="103.20" cy="488.90" r="2.15" fill="#0a0a0a"/><text x="107.20" y="490.80" font-size="5.8" fill="#5a5a5a" stroke="#5a5a5a" stroke-width="0.22">Cer<tspan font-size="4.8" font-weight="bold" dy="0.5">**</tspan></text>
<text x="89.0" y="497.9" font-size="4.6" font-weight="bold" fill="#111" stroke="#111" stroke-width="0.15">1326.7</text>
<text x="41.2" y="507.1" font-size="5.8" fill="#333" stroke="#333" stroke-width="0.2">LacCer</text>
<path d="M43.00 512.00H53.20" stroke="#333" stroke-width="0.85"/><circle cx="43.00" cy="512.00" r="1.72" fill="#fff" stroke="#1a1a1a" stroke-width="1.15"/><circle cx="49.70" cy="512.00" r="2.15" fill="#0a0a0a"/><text x="53.70" y="513.90" font-size="5.8" fill="#5a5a5a" stroke="#5a5a5a" stroke-width="0.22">Cer<tspan font-size="4.8" font-weight="bold" dy="0.5">**</tspan></text>
<text x="41.3" y="519.7" font-size="4.6" font-weight="bold" fill="#111" stroke="#111" stroke-width="0.15">1122.6</text>
<path d="M57.40 521.20H74.30" stroke="#333" stroke-width="0.85"/><circle cx="57.40" cy="521.20" r="1.72" fill="#fff" stroke="#1a1a1a" stroke-width="1.15"/><circle cx="64.10" cy="521.20" r="1.72" fill="#fff" stroke="#1a1a1a" stroke-width="1.15"/><circle cx="70.80" cy="521.20" r="2.15" fill="#0a0a0a"/><text x="74.80" y="523.10" font-size="5.8" fill="#5a5a5a" stroke="#5a5a5a" stroke-width="0.22">Cer<tspan font-size="4.8" font-weight="bold" dy="0.5">*</tspan></text>
<text x="62.9" y="528.5" font-size="4.6" font-weight="bold" fill="#111" stroke="#111" stroke-width="0.15">1214.6</text>
<path d="M14.10 520.90H24.30" stroke="#333" stroke-width="0.85"/><circle cx="14.10" cy="520.90" r="1.72" fill="#fff" stroke="#1a1a1a" stroke-width="1.15"/><circle cx="20.80" cy="520.90" r="2.15" fill="#0a0a0a"/><text x="24.80" y="522.80" font-size="5.8" fill="#5a5a5a" stroke="#5a5a5a" stroke-width="0.22">Cer<tspan font-size="4.8" font-weight="bold" dy="0.5">*</tspan></text>
<text x="14.4" y="529.5" font-size="4.6" font-weight="bold" fill="#111" stroke="#111" stroke-width="0.15">1010.5</text>
<text x="148.0" y="465.9" font-size="5.8" fill="#333" stroke="#333" stroke-width="0.2">Gb4/GA1</text>
<path d="M149.20 470.40H173.31" stroke="#333" stroke-width="0.85"/><circle cx="149.20" cy="470.40" r="1.72" fill="#fff" stroke="#1a1a1a" stroke-width="1.15"/><rect x="154.47" y="468.80" width="3.20" height="3.20" fill="#fff" stroke="#1a1a1a" stroke-width="1.15"/><circle cx="162.94" cy="470.40" r="1.72" fill="#fff" stroke="#1a1a1a" stroke-width="1.15"/><circle cx="169.81" cy="470.40" r="2.15" fill="#0a0a0a"/><text x="173.81" y="472.30" font-size="5.8" fill="#5a5a5a" stroke="#5a5a5a" stroke-width="0.22">Cer<tspan font-size="4.8" font-weight="bold" dy="0.5">**</tspan></text>
<path d="M149.20 478.00H173.49" stroke="#333" stroke-width="0.85"/><rect x="147.60" y="476.40" width="3.20" height="3.20" fill="#fff" stroke="#1a1a1a" stroke-width="1.15"/><circle cx="156.13" cy="478.00" r="1.72" fill="#fff" stroke="#1a1a1a" stroke-width="1.15"/><circle cx="163.06" cy="478.00" r="1.72" fill="#fff" stroke="#1a1a1a" stroke-width="1.15"/><circle cx="169.99" cy="478.00" r="2.15" fill="#0a0a0a"/><text x="173.99" y="479.90" font-size="5.8" fill="#5a5a5a" stroke="#5a5a5a" stroke-width="0.22">Cer<tspan font-size="4.8" font-weight="bold" dy="0.5">**</tspan></text>
<text x="147.6" y="486.9" font-size="4.6" font-weight="bold" fill="#111" stroke="#111" stroke-width="0.15">1571.8</text>
<text x="184.0" y="503.3" font-size="5.8" fill="#333" stroke="#333" stroke-width="0.2">GM2</text>
<path d="M186.00 507.20H203.50" stroke="#333" stroke-width="0.85"/><path d="M193.00 507.20V514.80" stroke="#111" stroke-width="1"/><rect x="184.40" y="505.60" width="3.20" height="3.20" fill="#fff" stroke="#1a1a1a" stroke-width="1.15"/><circle cx="193.00" cy="507.20" r="1.72" fill="#fff" stroke="#1a1a1a" stroke-width="1.15"/><circle cx="200.00" cy="507.20" r="2.15" fill="#0a0a0a"/><path d="M193.00 512.20L195.60 514.80L193.00 517.40L190.40 514.80Z" fill="#222" stroke="#000" stroke-width="0.9"/><text x="204.00" y="509.10" font-size="5.8" fill="#5a5a5a" stroke="#5a5a5a" stroke-width="0.22">Cer<tspan font-size="4.8" font-weight="bold" dy="0.5">**</tspan></text>
<text x="184.6" y="524.3" font-size="4.6" font-weight="bold" fill="#111" stroke="#111" stroke-width="0.15">1728.8</text>
<text x="232.0" y="488.6" font-size="5.8" fill="#333" stroke="#333" stroke-width="0.2">Gm1b</text>
<path d="M233.60 493.20H257.80" stroke="#333" stroke-width="0.85"/><path d="M233.60 493.20V500.40" stroke="#111" stroke-width="1"/><circle cx="233.60" cy="493.20" r="1.72" fill="#fff" stroke="#1a1a1a" stroke-width="1.15"/><rect x="238.90" y="491.60" width="3.20" height="3.20" fill="#fff" stroke="#1a1a1a" stroke-width="1.15"/><circle cx="247.40" cy="493.20" r="1.72" fill="#fff" stroke="#1a1a1a" stroke-width="1.15"/><circle cx="254.30" cy="493.20" r="2.15" fill="#0a0a0a"/><path d="M233.60 497.80L236.20 500.40L233.60 503.00L231.00 500.40Z" fill="#222" stroke="#000" stroke-width="0.9"/><text x="258.30" y="495.10" font-size="5.8" fill="#5a5a5a" stroke="#5a5a5a" stroke-width="0.22">Cer<tspan font-size="4.8" font-weight="bold" dy="0.5">**</tspan></text>
<text x="232.8" y="509.0" font-size="4.6" font-weight="bold" fill="#111" stroke="#111" stroke-width="0.15">1932.8</text>
<text x="317.0" y="499.1" font-size="5.8" fill="#333" stroke="#333" stroke-width="0.2">Gd1α</text>
<path d="M319.00 503.00H343.35" stroke="#333" stroke-width="0.85"/><path d="M319.00 503.00V510.20" stroke="#111" stroke-width="1"/><path d="M325.95 503.00V510.20" stroke="#111" stroke-width="1"/><circle cx="319.00" cy="503.00" r="1.72" fill="#fff" stroke="#1a1a1a" stroke-width="1.15"/><rect x="324.35" y="501.40" width="3.20" height="3.20" fill="#fff" stroke="#1a1a1a" stroke-width="1.15"/><circle cx="332.90" cy="503.00" r="1.72" fill="#fff" stroke="#1a1a1a" stroke-width="1.15"/><circle cx="339.85" cy="503.00" r="2.15" fill="#0a0a0a"/><path d="M319.00 507.60L321.60 510.20L319.00 512.80L316.40 510.20Z" fill="#222" stroke="#000" stroke-width="0.9"/><path d="M325.95 507.60L328.55 510.20L325.95 512.80L323.35 510.20Z" fill="#222" stroke="#000" stroke-width="0.9"/><text x="343.85" y="504.90" font-size="5.8" fill="#5a5a5a" stroke="#5a5a5a" stroke-width="0.22">Cer<tspan font-size="4.8" font-weight="bold" dy="0.5">**</tspan></text>
<text x="318.0" y="520.0" font-size="4.6" font-weight="bold" fill="#111" stroke="#111" stroke-width="0.15">2293.8</text>
</svg></body></html>
